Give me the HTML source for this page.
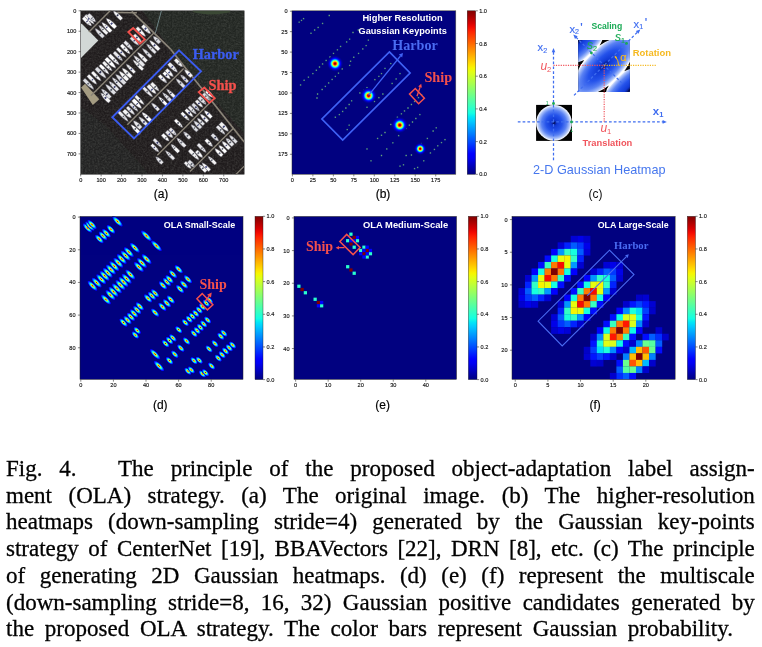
<!DOCTYPE html>
<html><head><meta charset="utf-8"><title>Fig. 4</title>
<style>
html,body{margin:0;padding:0;background:#fff}
svg,.cl{will-change:transform;opacity:0.999}
body{width:762px;height:647px;position:relative;overflow:hidden;font-family:"Liberation Serif",serif}
.cl{position:absolute;left:6.0px;height:25px;line-height:25px;font-size:23px;color:#000;-webkit-text-stroke:0.3px #000;text-align:justify;text-align-last:justify;white-space:nowrap;font-family:"Liberation Serif",serif}
</style></head><body>
<svg width="762" height="440" viewBox="0 0 762 440" style="position:absolute;left:0;top:0" font-family="Liberation Sans, sans-serif">
<defs>
<linearGradient id="jetv" x1="0" y1="1" x2="0" y2="0">
<stop offset="0.000" stop-color="#000080"/>
<stop offset="0.025" stop-color="#00009c"/>
<stop offset="0.050" stop-color="#0000b9"/>
<stop offset="0.075" stop-color="#0000d6"/>
<stop offset="0.100" stop-color="#0000f3"/>
<stop offset="0.125" stop-color="#0000ff"/>
<stop offset="0.150" stop-color="#0019ff"/>
<stop offset="0.175" stop-color="#0033ff"/>
<stop offset="0.200" stop-color="#004dff"/>
<stop offset="0.225" stop-color="#0066ff"/>
<stop offset="0.250" stop-color="#0080ff"/>
<stop offset="0.275" stop-color="#0099ff"/>
<stop offset="0.300" stop-color="#00b2ff"/>
<stop offset="0.325" stop-color="#00ccff"/>
<stop offset="0.350" stop-color="#00e5f7"/>
<stop offset="0.375" stop-color="#15ffe2"/>
<stop offset="0.400" stop-color="#29ffce"/>
<stop offset="0.425" stop-color="#3effb9"/>
<stop offset="0.450" stop-color="#52ffa5"/>
<stop offset="0.475" stop-color="#67ff90"/>
<stop offset="0.500" stop-color="#7bff7b"/>
<stop offset="0.525" stop-color="#90ff67"/>
<stop offset="0.550" stop-color="#a5ff52"/>
<stop offset="0.575" stop-color="#b9ff3e"/>
<stop offset="0.600" stop-color="#ceff29"/>
<stop offset="0.625" stop-color="#e2ff15"/>
<stop offset="0.650" stop-color="#f7f600"/>
<stop offset="0.675" stop-color="#ffde00"/>
<stop offset="0.700" stop-color="#ffc600"/>
<stop offset="0.725" stop-color="#ffaf00"/>
<stop offset="0.750" stop-color="#ff9700"/>
<stop offset="0.775" stop-color="#ff8000"/>
<stop offset="0.800" stop-color="#ff6800"/>
<stop offset="0.825" stop-color="#ff5000"/>
<stop offset="0.850" stop-color="#ff3900"/>
<stop offset="0.875" stop-color="#ff2100"/>
<stop offset="0.900" stop-color="#f30900"/>
<stop offset="0.925" stop-color="#d60000"/>
<stop offset="0.950" stop-color="#b90000"/>
<stop offset="0.975" stop-color="#9c0000"/>
<stop offset="1.000" stop-color="#800000"/>
</linearGradient>
<radialGradient id="gb" cx="0.5" cy="0.5" r="0.5">
<stop offset="0.000" stop-color="#800000"/>
<stop offset="0.042" stop-color="#890000"/>
<stop offset="0.083" stop-color="#a30000"/>
<stop offset="0.125" stop-color="#ce0000"/>
<stop offset="0.167" stop-color="#ff1a00"/>
<stop offset="0.208" stop-color="#ff5300"/>
<stop offset="0.250" stop-color="#ff9300"/>
<stop offset="0.292" stop-color="#ffd700"/>
<stop offset="0.333" stop-color="#d3ff24"/>
<stop offset="0.375" stop-color="#95ff62"/>
<stop offset="0.417" stop-color="#59ff9e"/>
<stop offset="0.458" stop-color="#20ffd7"/>
<stop offset="0.500" stop-color="#00ccff"/>
<stop offset="0.542" stop-color="#0091ff"/>
<stop offset="0.583" stop-color="#005dff"/>
<stop offset="0.625" stop-color="#0030ff"/>
<stop offset="0.667" stop-color="#000bff"/>
<stop offset="0.708" stop-color="#0000f9"/>
<stop offset="0.750" stop-color="#0000dc"/>
<stop offset="0.792" stop-color="#0000c5"/>
<stop offset="0.833" stop-color="#0000b2"/>
<stop offset="0.875" stop-color="#0000a4"/>
<stop offset="0.917" stop-color="#00009a"/>
<stop offset="0.958" stop-color="#000092"/>
<stop offset="1.000" stop-color="#00008c"/>
</radialGradient>
<radialGradient id="gs" cx="0.5" cy="0.5" r="0.5">
<stop offset="0.00" stop-color="#a20000"/>
<stop offset="0.08" stop-color="#f30900"/>
<stop offset="0.16" stop-color="#ff7b00"/>
<stop offset="0.26" stop-color="#deff19"/>
<stop offset="0.38" stop-color="#63ff94"/>
<stop offset="0.50" stop-color="#08f0ef"/>
<stop offset="0.62" stop-color="#0094ff"/>
<stop offset="0.74" stop-color="#0042ff"/>
<stop offset="0.86" stop-color="#0000ff"/>
<stop offset="0.95" stop-color="#0000ae"/>
<stop offset="1.00" stop-color="#000080"/>
</radialGradient>
<filter id="bl05" x="-5%" y="-5%" width="110%" height="110%"><feGaussianBlur stdDeviation="0.45"/></filter>
<filter id="bl03" x="-5%" y="-5%" width="110%" height="110%"><feGaussianBlur stdDeviation="0.3"/></filter>
<filter id="bl08" x="-5%" y="-5%" width="110%" height="110%"><feGaussianBlur stdDeviation="0.7"/></filter>
<filter id="noise" x="0" y="0" width="100%" height="100%"><feTurbulence type="fractalNoise" baseFrequency="0.55" numOctaves="2" seed="3" result="n"/><feColorMatrix in="n" type="matrix" values="0 0 0 0 0.36  0 0 0 0 0.38  0 0 0 0 0.34  0.25 0.25 0 0 -0.19"/></filter>
<clipPath id="ca"><rect x="80.70" y="10.80" width="163.50" height="163.50"/></clipPath>
<clipPath id="cb"><rect x="292.00" y="10.80" width="163.80" height="163.50"/></clipPath>
<clipPath id="cd"><rect x="80.00" y="216.30" width="163.00" height="163.30"/></clipPath>
<clipPath id="ce"><rect x="294.00" y="216.30" width="162.70" height="163.30"/></clipPath>
<clipPath id="cf"><rect x="512.00" y="216.30" width="163.20" height="163.30"/></clipPath>
</defs>
<style>.tk{font-size:5.6px;fill:#141414;stroke:#141414;stroke-width:0.14px} .ti{font-weight:bold;fill:#fff} .sf{font-family:"Liberation Serif",serif;font-weight:bold}</style>
<g clip-path="url(#ca)">
<rect x="80.70" y="10.80" width="163.50" height="163.50" fill="#1f1b1c"/>
<polygon points="142.0,10.8 244.2,10.8 244.2,133.4 195.2,78.2 166.5,43.5" fill="#242622" filter="url(#bl08)"/>
<polygon points="80.7,106.9 105.2,125.2 142.0,166.1 148.1,174.3 80.7,174.3" fill="#212320" filter="url(#bl08)"/>
<rect x="80.70" y="10.80" width="163.50" height="163.50" filter="url(#noise)"/>
<g filter="url(#bl05)">
<polygon points="80.7,23.5 82.3,24.3 98.3,40.6 80.7,58.2" fill="#d2d8d6"/>
<polygon points="81.1,87.4 85.0,83.8 99.3,99.3 92.8,105.0" fill="#a59c82"/>
<ellipse cx="211.5" cy="10.8" rx="19" ry="3.6" fill="#3b4a35"/>
<line x1="116.5" y1="12.4" x2="136.9" y2="12.8" stroke="#8a8478" stroke-width="1.5"/>
<line x1="131.8" y1="11.4" x2="170.6" y2="49.2" stroke="#8a8478" stroke-width="1.7"/>
<line x1="170.6" y1="49.2" x2="244.2" y2="142.0" stroke="#8a8478" stroke-width="1.7"/>
<line x1="161.4" y1="10.8" x2="155.3" y2="33.3" stroke="#7d989c" stroke-width="0.8"/>
<line x1="88.9" y1="32.1" x2="111.4" y2="9.6" stroke="#8a8478" stroke-width="1.4"/>
<line x1="90.9" y1="95.8" x2="154.1" y2="32.7" stroke="#8a8478" stroke-width="1.4"/>
<line x1="127.3" y1="124.8" x2="183.7" y2="68.4" stroke="#8a8478" stroke-width="1.4"/>
<line x1="157.3" y1="155.3" x2="210.9" y2="101.7" stroke="#8a8478" stroke-width="1.4"/>
<line x1="190.0" y1="171.6" x2="233.2" y2="128.5" stroke="#8a8478" stroke-width="1.4"/>
<line x1="223.8" y1="186.6" x2="244.2" y2="166.1" stroke="#8a8478" stroke-width="1.2"/>
</g>
<g filter="url(#bl05)">
<g transform="translate(87.4,21.7) rotate(135)">
<path d="M0,-5.94 C2.10,-3.27 2.00,2.97 1.60,5.94 L-1.60,5.94 C-2.00,2.97 -2.10,-3.27 0,-5.94Z" fill="#ffffff" stroke="#54535c" stroke-width="0.45"/>
<rect x="-1.00" y="-0.1" width="2.00" height="1.1" fill="#3c4070"/>
<rect x="-0.70" y="-2.7" width="1.40" height="0.8" fill="#777b88"/>
</g>
<g transform="translate(89.8,19.8) rotate(135)">
<path d="M0,-6.40 C1.89,-3.52 1.80,3.20 1.44,6.40 L-1.44,6.40 C-1.80,3.20 -1.89,-3.52 0,-6.40Z" fill="#f4f4f4" stroke="#54535c" stroke-width="0.45"/>
<rect x="-0.90" y="0.7" width="1.80" height="1.5" fill="#444a80"/>
<rect x="-0.63" y="-2.0" width="1.26" height="0.8" fill="#777b88"/>
</g>
<g transform="translate(91.9,18.2) rotate(135)">
<path d="M0,-5.40 C2.28,-2.97 2.18,2.70 1.74,5.40 L-1.74,5.40 C-2.18,2.70 -2.28,-2.97 0,-5.40Z" fill="#e9e9ec" stroke="#54535c" stroke-width="0.45"/>
<rect x="-1.09" y="-0.6" width="2.18" height="1.1" fill="#6a6d78"/>
<rect x="-0.76" y="-2.2" width="1.52" height="0.8" fill="#777b88"/>
</g>
<g transform="translate(117.5,15.1) rotate(-45)">
<path d="M0,-5.94 C2.14,-3.27 2.03,2.97 1.63,5.94 L-1.63,5.94 C-2.03,2.97 -2.14,-3.27 0,-5.94Z" fill="#f4f4f4" stroke="#54535c" stroke-width="0.45"/>
<rect x="-1.02" y="-0.6" width="2.03" height="1.6" fill="#2f3350"/>
</g>
<g transform="translate(99.3,32.8) rotate(-45)">
<path d="M0,-6.07 C2.09,-3.34 1.99,3.04 1.59,6.07 L-1.59,6.07 C-1.99,3.04 -2.09,-3.34 0,-6.07Z" fill="#dfe0e4" stroke="#54535c" stroke-width="0.45"/>
<rect x="-1.00" y="0.4" width="1.99" height="1.4" fill="#6a6d78"/>
</g>
<g transform="translate(103.0,29.6) rotate(-45)">
<path d="M0,-6.11 C1.96,-3.36 1.86,3.06 1.49,6.11 L-1.49,6.11 C-1.86,3.06 -1.96,-3.36 0,-6.11Z" fill="#f4f4f4" stroke="#54535c" stroke-width="0.45"/>
<rect x="-0.93" y="-0.7" width="1.86" height="1.2" fill="#555a66"/>
<rect x="-0.65" y="-2.8" width="1.30" height="0.8" fill="#777b88"/>
</g>
<g transform="translate(106.4,27.0) rotate(-45)">
<path d="M0,-6.62 C2.15,-3.64 2.05,3.31 1.64,6.62 L-1.64,6.62 C-2.05,3.31 -2.15,-3.64 0,-6.62Z" fill="#ffffff" stroke="#54535c" stroke-width="0.45"/>
<rect x="-1.02" y="0.0" width="2.05" height="1.1" fill="#3c4070"/>
<rect x="-0.72" y="-2.1" width="1.43" height="0.8" fill="#777b88"/>
</g>
<g transform="translate(110.9,23.0) rotate(-45)">
<path d="M0,-6.69 C2.34,-3.68 2.23,3.35 1.78,6.69 L-1.78,6.69 C-2.23,3.35 -2.34,-3.68 0,-6.69Z" fill="#ffffff" stroke="#54535c" stroke-width="0.45"/>
<rect x="-1.11" y="0.1" width="2.23" height="1.7" fill="#444a80"/>
<rect x="-0.78" y="-2.4" width="1.56" height="0.8" fill="#777b88"/>
</g>
<g transform="translate(146.5,29.6) rotate(135)">
<path d="M0,-5.83 C2.14,-3.20 2.03,2.91 1.63,5.83 L-1.63,5.83 C-2.03,2.91 -2.14,-3.20 0,-5.83Z" fill="#f8f8f8" stroke="#54535c" stroke-width="0.45"/>
<rect x="-1.02" y="0.5" width="2.03" height="1.8" fill="#3c4070"/>
<rect x="-0.71" y="-2.4" width="1.42" height="0.8" fill="#777b88"/>
</g>
<g transform="translate(156.5,39.6) rotate(-45)">
<path d="M0,-4.69 C2.20,-2.58 2.10,2.35 1.68,4.69 L-1.68,4.69 C-2.10,2.35 -2.20,-2.58 0,-4.69Z" fill="#dfe0e4" stroke="#54535c" stroke-width="0.45"/>
<rect x="-1.05" y="-0.3" width="2.10" height="1.3" fill="#6a6d78"/>
</g>
<g transform="translate(92.4,79.7) rotate(135)">
<path d="M0,-6.28 C2.07,-3.45 1.97,3.14 1.58,6.28 L-1.58,6.28 C-1.97,3.14 -2.07,-3.45 0,-6.28Z" fill="#f4f4f4" stroke="#54535c" stroke-width="0.45"/>
<rect x="-0.99" y="-0.6" width="1.97" height="1.0" fill="#444a80"/>
</g>
<g transform="translate(96.6,76.5) rotate(135)">
<path d="M0,-6.39 C1.96,-3.51 1.86,3.19 1.49,6.39 L-1.49,6.39 C-1.86,3.19 -1.96,-3.51 0,-6.39Z" fill="#f8f8f8" stroke="#54535c" stroke-width="0.45"/>
<rect x="-0.93" y="-0.7" width="1.86" height="1.4" fill="#6a6d78"/>
</g>
<g transform="translate(101.1,73.1) rotate(135)">
<path d="M0,-7.13 C2.26,-3.92 2.16,3.57 1.72,7.13 L-1.72,7.13 C-2.16,3.57 -2.26,-3.92 0,-7.13Z" fill="#dfe0e4" stroke="#54535c" stroke-width="0.45"/>
<rect x="-1.08" y="0.3" width="2.16" height="1.8" fill="#2f3350"/>
</g>
<g transform="translate(104.5,69.7) rotate(135)">
<path d="M0,-6.61 C1.95,-3.64 1.86,3.31 1.48,6.61 L-1.48,6.61 C-1.86,3.31 -1.95,-3.64 0,-6.61Z" fill="#ffffff" stroke="#54535c" stroke-width="0.45"/>
<rect x="-0.93" y="-0.6" width="1.86" height="1.5" fill="#555a66"/>
<rect x="-0.65" y="-2.2" width="1.30" height="0.8" fill="#777b88"/>
</g>
<g transform="translate(107.7,66.5) rotate(135)">
<path d="M0,-6.41 C1.98,-3.52 1.88,3.20 1.50,6.41 L-1.50,6.41 C-1.88,3.20 -1.98,-3.52 0,-6.41Z" fill="#f4f4f4" stroke="#54535c" stroke-width="0.45"/>
<rect x="-0.94" y="0.1" width="1.88" height="1.5" fill="#6a6d78"/>
<rect x="-0.66" y="-3.0" width="1.32" height="0.8" fill="#777b88"/>
</g>
<g transform="translate(110.9,63.3) rotate(135)">
<path d="M0,-7.11 C2.33,-3.91 2.22,3.55 1.78,7.11 L-1.78,7.11 C-2.22,3.55 -2.33,-3.91 0,-7.11Z" fill="#ffffff" stroke="#54535c" stroke-width="0.45"/>
<rect x="-1.11" y="0.6" width="2.22" height="1.6" fill="#6a6d78"/>
</g>
<g transform="translate(114.3,59.9) rotate(135)">
<path d="M0,-7.04 C2.03,-3.87 1.94,3.52 1.55,7.04 L-1.55,7.04 C-1.94,3.52 -2.03,-3.87 0,-7.04Z" fill="#f8f8f8" stroke="#54535c" stroke-width="0.45"/>
<rect x="-0.97" y="-0.6" width="1.94" height="1.5" fill="#6a6d78"/>
<rect x="-0.68" y="-3.1" width="1.36" height="0.8" fill="#777b88"/>
</g>
<g transform="translate(118.3,56.5) rotate(135)">
<path d="M0,-6.16 C1.91,-3.39 1.82,3.08 1.46,6.16 L-1.46,6.16 C-1.82,3.08 -1.91,-3.39 0,-6.16Z" fill="#e9e9ec" stroke="#54535c" stroke-width="0.45"/>
<rect x="-0.91" y="-0.7" width="1.82" height="1.0" fill="#444a80"/>
<rect x="-0.64" y="-3.1" width="1.27" height="0.8" fill="#777b88"/>
</g>
<g transform="translate(121.7,52.8) rotate(135)">
<path d="M0,-6.46 C1.84,-3.55 1.75,3.23 1.40,6.46 L-1.40,6.46 C-1.75,3.23 -1.84,-3.55 0,-6.46Z" fill="#f4f4f4" stroke="#54535c" stroke-width="0.45"/>
<rect x="-0.88" y="-0.2" width="1.75" height="1.5" fill="#444a80"/>
</g>
<g transform="translate(125.6,49.4) rotate(135)">
<path d="M0,-6.41 C2.08,-3.53 1.98,3.20 1.58,6.41 L-1.58,6.41 C-1.98,3.20 -2.08,-3.53 0,-6.41Z" fill="#ffffff" stroke="#54535c" stroke-width="0.45"/>
<rect x="-0.99" y="0.8" width="1.98" height="1.4" fill="#6a6d78"/>
<rect x="-0.69" y="-3.1" width="1.39" height="0.8" fill="#777b88"/>
</g>
<g transform="translate(128.8,45.9) rotate(135)">
<path d="M0,-6.06 C2.01,-3.33 1.91,3.03 1.53,6.06 L-1.53,6.06 C-1.91,3.03 -2.01,-3.33 0,-6.06Z" fill="#e9e9ec" stroke="#54535c" stroke-width="0.45"/>
<rect x="-0.96" y="0.5" width="1.91" height="1.1" fill="#6a6d78"/>
<rect x="-0.67" y="-2.1" width="1.34" height="0.8" fill="#777b88"/>
</g>
<g transform="translate(134.9,41.5) rotate(135)">
<path d="M0,-5.63 C1.90,-3.09 1.81,2.81 1.45,5.63 L-1.45,5.63 C-1.81,2.81 -1.90,-3.09 0,-5.63Z" fill="#dfe0e4" stroke="#54535c" stroke-width="0.45"/>
<rect x="-0.91" y="0.4" width="1.81" height="1.2" fill="#3c4070"/>
</g>
<g transform="translate(105.9,93.4) rotate(-45)">
<path d="M0,-6.31 C2.28,-3.47 2.17,3.16 1.74,6.31 L-1.74,6.31 C-2.17,3.16 -2.28,-3.47 0,-6.31Z" fill="#dfe0e4" stroke="#54535c" stroke-width="0.45"/>
<rect x="-1.08" y="0.7" width="2.17" height="1.3" fill="#2f3350"/>
<rect x="-0.76" y="-2.6" width="1.52" height="0.8" fill="#777b88"/>
</g>
<g transform="translate(110.3,88.9) rotate(-45)">
<path d="M0,-6.74 C2.17,-3.71 2.06,3.37 1.65,6.74 L-1.65,6.74 C-2.06,3.37 -2.17,-3.71 0,-6.74Z" fill="#dfe0e4" stroke="#54535c" stroke-width="0.45"/>
<rect x="-1.03" y="0.5" width="2.06" height="1.7" fill="#555a66"/>
</g>
<g transform="translate(113.5,85.8) rotate(-45)">
<path d="M0,-6.45 C2.10,-3.55 2.00,3.23 1.60,6.45 L-1.60,6.45 C-2.00,3.23 -2.10,-3.55 0,-6.45Z" fill="#e9e9ec" stroke="#54535c" stroke-width="0.45"/>
<rect x="-1.00" y="0.8" width="2.00" height="1.6" fill="#3c4070"/>
<rect x="-0.70" y="-3.0" width="1.40" height="0.8" fill="#777b88"/>
</g>
<g transform="translate(116.9,82.3) rotate(-45)">
<path d="M0,-6.84 C2.01,-3.76 1.91,3.42 1.53,6.84 L-1.53,6.84 C-1.91,3.42 -2.01,-3.76 0,-6.84Z" fill="#e9e9ec" stroke="#54535c" stroke-width="0.45"/>
<rect x="-0.96" y="-0.7" width="1.91" height="1.1" fill="#2f3350"/>
<rect x="-0.67" y="-2.8" width="1.34" height="0.8" fill="#777b88"/>
</g>
<g transform="translate(120.4,78.9) rotate(-45)">
<path d="M0,-6.72 C2.35,-3.69 2.24,3.36 1.79,6.72 L-1.79,6.72 C-2.24,3.36 -2.35,-3.69 0,-6.72Z" fill="#dfe0e4" stroke="#54535c" stroke-width="0.45"/>
<rect x="-1.12" y="-0.0" width="2.24" height="1.5" fill="#3c4070"/>
</g>
<g transform="translate(123.5,75.7) rotate(-45)">
<path d="M0,-6.31 C2.18,-3.47 2.07,3.15 1.66,6.31 L-1.66,6.31 C-2.07,3.15 -2.18,-3.47 0,-6.31Z" fill="#f8f8f8" stroke="#54535c" stroke-width="0.45"/>
<rect x="-1.04" y="-0.0" width="2.07" height="1.1" fill="#555a66"/>
</g>
<g transform="translate(126.7,72.6) rotate(-45)">
<path d="M0,-6.56 C2.25,-3.61 2.15,3.28 1.72,6.56 L-1.72,6.56 C-2.15,3.28 -2.25,-3.61 0,-6.56Z" fill="#f8f8f8" stroke="#54535c" stroke-width="0.45"/>
<rect x="-1.07" y="-0.2" width="2.15" height="1.8" fill="#6a6d78"/>
</g>
<g transform="translate(130.4,68.4) rotate(-45)">
<path d="M0,-6.12 C1.89,-3.37 1.80,3.06 1.44,6.12 L-1.44,6.12 C-1.80,3.06 -1.89,-3.37 0,-6.12Z" fill="#f4f4f4" stroke="#54535c" stroke-width="0.45"/>
<rect x="-0.90" y="0.6" width="1.80" height="1.6" fill="#444a80"/>
<rect x="-0.63" y="-2.2" width="1.26" height="0.8" fill="#777b88"/>
</g>
<g transform="translate(138.8,60.7) rotate(-45)">
<path d="M0,-7.28 C2.18,-4.00 2.07,3.64 1.66,7.28 L-1.66,7.28 C-2.07,3.64 -2.18,-4.00 0,-7.28Z" fill="#e9e9ec" stroke="#54535c" stroke-width="0.45"/>
<rect x="-1.04" y="0.1" width="2.07" height="1.1" fill="#555a66"/>
<rect x="-0.73" y="-2.0" width="1.45" height="0.8" fill="#777b88"/>
</g>
<g transform="translate(142.0,56.8) rotate(-45)">
<path d="M0,-6.60 C2.11,-3.63 2.01,3.30 1.60,6.60 L-1.60,6.60 C-2.01,3.30 -2.11,-3.63 0,-6.60Z" fill="#f4f4f4" stroke="#54535c" stroke-width="0.45"/>
<rect x="-1.00" y="0.8" width="2.01" height="1.2" fill="#6a6d78"/>
</g>
<g transform="translate(146.7,52.8) rotate(-45)">
<path d="M0,-6.28 C1.94,-3.46 1.85,3.14 1.48,6.28 L-1.48,6.28 C-1.85,3.14 -1.94,-3.46 0,-6.28Z" fill="#dfe0e4" stroke="#54535c" stroke-width="0.45"/>
<rect x="-0.92" y="0.4" width="1.85" height="1.3" fill="#555a66"/>
</g>
<g transform="translate(148.1,92.4) rotate(135)">
<path d="M0,-6.64 C1.86,-3.65 1.77,3.32 1.41,6.64 L-1.41,6.64 C-1.77,3.32 -1.86,-3.65 0,-6.64Z" fill="#e9e9ec" stroke="#54535c" stroke-width="0.45"/>
<rect x="-0.88" y="0.3" width="1.77" height="1.7" fill="#6a6d78"/>
</g>
<g transform="translate(152.0,89.7) rotate(135)">
<path d="M0,-5.88 C2.30,-3.24 2.19,2.94 1.75,5.88 L-1.75,5.88 C-2.19,2.94 -2.30,-3.24 0,-5.88Z" fill="#f4f4f4" stroke="#54535c" stroke-width="0.45"/>
<rect x="-1.09" y="-0.6" width="2.19" height="1.4" fill="#444a80"/>
</g>
<g transform="translate(155.2,87.1) rotate(135)">
<path d="M0,-5.54 C2.15,-3.05 2.05,2.77 1.64,5.54 L-1.64,5.54 C-2.05,2.77 -2.15,-3.05 0,-5.54Z" fill="#f4f4f4" stroke="#54535c" stroke-width="0.45"/>
<rect x="-1.02" y="-0.6" width="2.05" height="1.5" fill="#555a66"/>
<rect x="-0.72" y="-3.1" width="1.43" height="0.8" fill="#777b88"/>
</g>
<g transform="translate(163.1,79.2) rotate(135)">
<path d="M0,-5.47 C2.11,-3.01 2.01,2.73 1.61,5.47 L-1.61,5.47 C-2.01,2.73 -2.11,-3.01 0,-5.47Z" fill="#f8f8f8" stroke="#54535c" stroke-width="0.45"/>
<rect x="-1.00" y="0.6" width="2.01" height="1.0" fill="#3c4070"/>
<rect x="-0.70" y="-3.1" width="1.41" height="0.8" fill="#777b88"/>
</g>
<g transform="translate(167.0,75.7) rotate(135)">
<path d="M0,-4.72 C2.07,-2.60 1.97,2.36 1.57,4.72 L-1.57,4.72 C-1.97,2.36 -2.07,-2.60 0,-4.72Z" fill="#ffffff" stroke="#54535c" stroke-width="0.45"/>
<rect x="-0.98" y="-0.1" width="1.97" height="1.5" fill="#3c4070"/>
</g>
<g transform="translate(169.7,73.1) rotate(135)">
<path d="M0,-5.04 C2.20,-2.77 2.09,2.52 1.67,5.04 L-1.67,5.04 C-2.09,2.52 -2.20,-2.77 0,-5.04Z" fill="#f8f8f8" stroke="#54535c" stroke-width="0.45"/>
<rect x="-1.05" y="0.1" width="2.09" height="1.4" fill="#444a80"/>
</g>
<g transform="translate(173.1,67.8) rotate(135)">
<path d="M0,-6.21 C2.29,-3.42 2.19,3.11 1.75,6.21 L-1.75,6.21 C-2.19,3.11 -2.29,-3.42 0,-6.21Z" fill="#e9e9ec" stroke="#54535c" stroke-width="0.45"/>
<rect x="-1.09" y="0.6" width="2.19" height="1.2" fill="#444a80"/>
<rect x="-0.76" y="-2.7" width="1.53" height="0.8" fill="#777b88"/>
</g>
<g transform="translate(178.9,63.1) rotate(135)">
<path d="M0,-5.37 C1.99,-2.95 1.90,2.68 1.52,5.37 L-1.52,5.37 C-1.90,2.68 -1.99,-2.95 0,-5.37Z" fill="#f4f4f4" stroke="#54535c" stroke-width="0.45"/>
<rect x="-0.95" y="-0.7" width="1.90" height="1.5" fill="#6a6d78"/>
</g>
<g transform="translate(123.5,116.6) rotate(135)">
<path d="M0,-6.85 C1.91,-3.77 1.82,3.42 1.45,6.85 L-1.45,6.85 C-1.82,3.42 -1.91,-3.77 0,-6.85Z" fill="#e9e9ec" stroke="#54535c" stroke-width="0.45"/>
<rect x="-0.91" y="-0.4" width="1.82" height="1.1" fill="#555a66"/>
<rect x="-0.64" y="-2.3" width="1.27" height="0.8" fill="#777b88"/>
</g>
<g transform="translate(127.5,114.0) rotate(135)">
<path d="M0,-5.38 C2.30,-2.96 2.19,2.69 1.75,5.38 L-1.75,5.38 C-2.19,2.69 -2.30,-2.96 0,-5.38Z" fill="#f4f4f4" stroke="#54535c" stroke-width="0.45"/>
<rect x="-1.09" y="-0.5" width="2.19" height="1.3" fill="#555a66"/>
</g>
<g transform="translate(130.9,110.8) rotate(135)">
<path d="M0,-5.46 C1.93,-3.00 1.84,2.73 1.47,5.46 L-1.47,5.46 C-1.84,2.73 -1.93,-3.00 0,-5.46Z" fill="#e9e9ec" stroke="#54535c" stroke-width="0.45"/>
<rect x="-0.92" y="0.4" width="1.84" height="1.0" fill="#3c4070"/>
</g>
<g transform="translate(134.1,107.4) rotate(135)">
<path d="M0,-5.69 C1.83,-3.13 1.75,2.85 1.40,5.69 L-1.40,5.69 C-1.75,2.85 -1.83,-3.13 0,-5.69Z" fill="#e9e9ec" stroke="#54535c" stroke-width="0.45"/>
<rect x="-0.87" y="0.2" width="1.75" height="1.4" fill="#444a80"/>
<rect x="-0.61" y="-2.0" width="1.22" height="0.8" fill="#777b88"/>
</g>
<g transform="translate(137.2,104.0) rotate(135)">
<path d="M0,-6.15 C2.35,-3.38 2.23,3.07 1.79,6.15 L-1.79,6.15 C-2.23,3.07 -2.35,-3.38 0,-6.15Z" fill="#ffffff" stroke="#54535c" stroke-width="0.45"/>
<rect x="-1.12" y="-0.4" width="2.23" height="1.0" fill="#3c4070"/>
</g>
<g transform="translate(139.9,100.3) rotate(135)">
<path d="M0,-6.22 C1.89,-3.42 1.80,3.11 1.44,6.22 L-1.44,6.22 C-1.80,3.11 -1.89,-3.42 0,-6.22Z" fill="#f8f8f8" stroke="#54535c" stroke-width="0.45"/>
<rect x="-0.90" y="-0.2" width="1.80" height="1.4" fill="#2f3350"/>
</g>
<g transform="translate(155.2,106.6) rotate(-45)">
<path d="M0,-5.17 C2.00,-2.84 1.90,2.59 1.52,5.17 L-1.52,5.17 C-1.90,2.59 -2.00,-2.84 0,-5.17Z" fill="#e9e9ec" stroke="#54535c" stroke-width="0.45"/>
<rect x="-0.95" y="0.5" width="1.90" height="1.1" fill="#3c4070"/>
</g>
<g transform="translate(162.6,100.8) rotate(-45)">
<path d="M0,-5.81 C1.83,-3.20 1.75,2.91 1.40,5.81 L-1.40,5.81 C-1.75,2.91 -1.83,-3.20 0,-5.81Z" fill="#ffffff" stroke="#54535c" stroke-width="0.45"/>
<rect x="-0.87" y="-0.7" width="1.75" height="1.7" fill="#2f3350"/>
<rect x="-0.61" y="-2.2" width="1.22" height="0.8" fill="#777b88"/>
</g>
<g transform="translate(167.0,97.1) rotate(-45)">
<path d="M0,-6.41 C2.01,-3.52 1.91,3.20 1.53,6.41 L-1.53,6.41 C-1.91,3.20 -2.01,-3.52 0,-6.41Z" fill="#dfe0e4" stroke="#54535c" stroke-width="0.45"/>
<rect x="-0.96" y="0.7" width="1.91" height="1.2" fill="#6a6d78"/>
<rect x="-0.67" y="-2.6" width="1.34" height="0.8" fill="#777b88"/>
</g>
<g transform="translate(171.0,93.4) rotate(-45)">
<path d="M0,-6.33 C1.88,-3.48 1.79,3.16 1.43,6.33 L-1.43,6.33 C-1.79,3.16 -1.88,-3.48 0,-6.33Z" fill="#f4f4f4" stroke="#54535c" stroke-width="0.45"/>
<rect x="-0.90" y="-0.7" width="1.79" height="1.2" fill="#2f3350"/>
<rect x="-0.63" y="-2.8" width="1.26" height="0.8" fill="#777b88"/>
</g>
<g transform="translate(180.2,82.9) rotate(-45)">
<path d="M0,-6.12 C1.98,-3.37 1.89,3.06 1.51,6.12 L-1.51,6.12 C-1.89,3.06 -1.98,-3.37 0,-6.12Z" fill="#dfe0e4" stroke="#54535c" stroke-width="0.45"/>
<rect x="-0.94" y="-0.4" width="1.89" height="1.6" fill="#555a66"/>
</g>
<g transform="translate(184.2,78.4) rotate(-45)">
<path d="M0,-5.20 C1.83,-2.86 1.75,2.60 1.40,5.20 L-1.40,5.20 C-1.75,2.60 -1.83,-2.86 0,-5.20Z" fill="#dfe0e4" stroke="#54535c" stroke-width="0.45"/>
<rect x="-0.87" y="0.8" width="1.75" height="1.4" fill="#444a80"/>
<rect x="-0.61" y="-2.7" width="1.22" height="0.8" fill="#777b88"/>
</g>
<g transform="translate(188.1,73.1) rotate(-45)">
<path d="M0,-5.01 C2.17,-2.76 2.07,2.51 1.66,5.01 L-1.66,5.01 C-2.07,2.51 -2.17,-2.76 0,-5.01Z" fill="#f8f8f8" stroke="#54535c" stroke-width="0.45"/>
<rect x="-1.03" y="0.5" width="2.07" height="1.3" fill="#444a80"/>
</g>
<g transform="translate(137.2,124.5) rotate(-45)">
<path d="M0,-5.33 C2.35,-2.93 2.24,2.66 1.79,5.33 L-1.79,5.33 C-2.24,2.66 -2.35,-2.93 0,-5.33Z" fill="#e9e9ec" stroke="#54535c" stroke-width="0.45"/>
<rect x="-1.12" y="0.5" width="2.24" height="1.6" fill="#555a66"/>
</g>
<g transform="translate(135.4,129.0) rotate(-45)">
<path d="M0,-6.50 C2.01,-3.57 1.91,3.25 1.53,6.50 L-1.53,6.50 C-1.91,3.25 -2.01,-3.57 0,-6.50Z" fill="#ffffff" stroke="#54535c" stroke-width="0.45"/>
<rect x="-0.96" y="-0.8" width="1.91" height="1.5" fill="#555a66"/>
</g>
<g transform="translate(185.5,116.6) rotate(135)">
<path d="M0,-5.60 C1.85,-3.08 1.77,2.80 1.41,5.60 L-1.41,5.60 C-1.77,2.80 -1.85,-3.08 0,-5.60Z" fill="#f8f8f8" stroke="#54535c" stroke-width="0.45"/>
<rect x="-0.88" y="0.3" width="1.77" height="1.2" fill="#444a80"/>
<rect x="-0.62" y="-2.8" width="1.24" height="0.8" fill="#777b88"/>
</g>
<g transform="translate(189.5,113.2) rotate(135)">
<path d="M0,-5.34 C1.91,-2.94 1.82,2.67 1.45,5.34 L-1.45,5.34 C-1.82,2.67 -1.91,-2.94 0,-5.34Z" fill="#f8f8f8" stroke="#54535c" stroke-width="0.45"/>
<rect x="-0.91" y="-0.4" width="1.82" height="1.8" fill="#3c4070"/>
</g>
<g transform="translate(192.6,110.3) rotate(135)">
<path d="M0,-5.27 C1.96,-2.90 1.86,2.64 1.49,5.27 L-1.49,5.27 C-1.86,2.64 -1.96,-2.90 0,-5.27Z" fill="#e9e9ec" stroke="#54535c" stroke-width="0.45"/>
<rect x="-0.93" y="-0.2" width="1.86" height="1.0" fill="#555a66"/>
<rect x="-0.65" y="-2.6" width="1.30" height="0.8" fill="#777b88"/>
</g>
<g transform="translate(196.0,107.4) rotate(135)">
<path d="M0,-4.95 C1.93,-2.72 1.84,2.48 1.47,4.95 L-1.47,4.95 C-1.84,2.48 -1.93,-2.72 0,-4.95Z" fill="#dfe0e4" stroke="#54535c" stroke-width="0.45"/>
<rect x="-0.92" y="-0.7" width="1.84" height="1.7" fill="#3c4070"/>
<rect x="-0.64" y="-2.5" width="1.29" height="0.8" fill="#777b88"/>
</g>
<g transform="translate(199.5,104.0) rotate(135)">
<path d="M0,-4.87 C1.98,-2.68 1.89,2.43 1.51,4.87 L-1.51,4.87 C-1.89,2.43 -1.98,-2.68 0,-4.87Z" fill="#f4f4f4" stroke="#54535c" stroke-width="0.45"/>
<rect x="-0.95" y="0.1" width="1.89" height="1.4" fill="#3c4070"/>
</g>
<g transform="translate(202.6,100.8) rotate(135)">
<path d="M0,-5.07 C2.21,-2.79 2.10,2.53 1.68,5.07 L-1.68,5.07 C-2.10,2.53 -2.21,-2.79 0,-5.07Z" fill="#dfe0e4" stroke="#54535c" stroke-width="0.45"/>
<rect x="-1.05" y="0.4" width="2.10" height="1.6" fill="#6a6d78"/>
<rect x="-0.74" y="-2.9" width="1.47" height="0.8" fill="#777b88"/>
</g>
<g transform="translate(206.6,97.1) rotate(135)">
<path d="M0,-4.90 C1.90,-2.69 1.81,2.45 1.45,4.90 L-1.45,4.90 C-1.81,2.45 -1.90,-2.69 0,-4.90Z" fill="#dfe0e4" stroke="#54535c" stroke-width="0.45"/>
<rect x="-0.91" y="0.4" width="1.81" height="1.6" fill="#6a6d78"/>
<rect x="-0.63" y="-2.6" width="1.27" height="0.8" fill="#777b88"/>
</g>
<g transform="translate(209.8,94.2) rotate(135)">
<path d="M0,-4.67 C2.27,-2.57 2.16,2.33 1.73,4.67 L-1.73,4.67 C-2.16,2.33 -2.27,-2.57 0,-4.67Z" fill="#ffffff" stroke="#54535c" stroke-width="0.45"/>
<rect x="-1.08" y="0.5" width="2.16" height="1.6" fill="#444a80"/>
</g>
<g transform="translate(178.9,123.7) rotate(135)">
<path d="M0,-5.49 C1.87,-3.02 1.78,2.75 1.42,5.49 L-1.42,5.49 C-1.78,2.75 -1.87,-3.02 0,-5.49Z" fill="#ffffff" stroke="#54535c" stroke-width="0.45"/>
<rect x="-0.89" y="0.2" width="1.78" height="1.8" fill="#555a66"/>
<rect x="-0.62" y="-2.7" width="1.25" height="0.8" fill="#777b88"/>
</g>
<g transform="translate(194.2,127.7) rotate(-45)">
<path d="M0,-4.63 C1.83,-2.55 1.75,2.32 1.40,4.63 L-1.40,4.63 C-1.75,2.32 -1.83,-2.55 0,-4.63Z" fill="#dfe0e4" stroke="#54535c" stroke-width="0.45"/>
<rect x="-0.87" y="-0.0" width="1.75" height="1.0" fill="#555a66"/>
</g>
<g transform="translate(197.4,124.5) rotate(-45)">
<path d="M0,-5.17 C2.09,-2.84 1.99,2.58 1.60,5.17 L-1.60,5.17 C-1.99,2.58 -2.09,-2.84 0,-5.17Z" fill="#dfe0e4" stroke="#54535c" stroke-width="0.45"/>
<rect x="-1.00" y="0.3" width="1.99" height="1.1" fill="#3c4070"/>
</g>
<g transform="translate(200.5,121.4) rotate(-45)">
<path d="M0,-4.79 C1.86,-2.63 1.78,2.39 1.42,4.79 L-1.42,4.79 C-1.78,2.39 -1.86,-2.63 0,-4.79Z" fill="#e9e9ec" stroke="#54535c" stroke-width="0.45"/>
<rect x="-0.89" y="0.4" width="1.78" height="1.2" fill="#555a66"/>
</g>
<g transform="translate(204.0,117.9) rotate(-45)">
<path d="M0,-5.34 C2.09,-2.94 1.99,2.67 1.59,5.34 L-1.59,5.34 C-1.99,2.67 -2.09,-2.94 0,-5.34Z" fill="#f8f8f8" stroke="#54535c" stroke-width="0.45"/>
<rect x="-0.99" y="-0.0" width="1.99" height="1.5" fill="#3c4070"/>
</g>
<g transform="translate(207.9,114.0) rotate(-45)">
<path d="M0,-5.07 C2.17,-2.79 2.07,2.53 1.65,5.07 L-1.65,5.07 C-2.07,2.53 -2.17,-2.79 0,-5.07Z" fill="#ffffff" stroke="#54535c" stroke-width="0.45"/>
<rect x="-1.03" y="-0.6" width="2.07" height="1.2" fill="#444a80"/>
</g>
<g transform="translate(165.7,137.7) rotate(135)">
<path d="M0,-4.80 C2.13,-2.64 2.03,2.40 1.62,4.80 L-1.62,4.80 C-2.03,2.40 -2.13,-2.64 0,-4.80Z" fill="#ffffff" stroke="#54535c" stroke-width="0.45"/>
<rect x="-1.01" y="-0.7" width="2.03" height="1.2" fill="#6a6d78"/>
</g>
<g transform="translate(169.7,134.5) rotate(135)">
<path d="M0,-4.66 C2.19,-2.56 2.08,2.33 1.67,4.66 L-1.67,4.66 C-2.08,2.33 -2.19,-2.56 0,-4.66Z" fill="#e9e9ec" stroke="#54535c" stroke-width="0.45"/>
<rect x="-1.04" y="-0.3" width="2.08" height="1.4" fill="#444a80"/>
</g>
<g transform="translate(173.1,131.9) rotate(135)">
<path d="M0,-4.72 C2.12,-2.59 2.02,2.36 1.61,4.72 L-1.61,4.72 C-2.02,2.36 -2.12,-2.59 0,-4.72Z" fill="#e9e9ec" stroke="#54535c" stroke-width="0.45"/>
<rect x="-1.01" y="0.7" width="2.02" height="1.0" fill="#3c4070"/>
<rect x="-0.71" y="-2.2" width="1.41" height="0.8" fill="#777b88"/>
</g>
<g transform="translate(181.0,142.2) rotate(-45)">
<path d="M0,-6.10 C2.07,-3.35 1.97,3.05 1.57,6.10 L-1.57,6.10 C-1.97,3.05 -2.07,-3.35 0,-6.10Z" fill="#e9e9ec" stroke="#54535c" stroke-width="0.45"/>
<rect x="-0.98" y="-0.5" width="1.97" height="1.8" fill="#6a6d78"/>
<rect x="-0.69" y="-2.5" width="1.38" height="0.8" fill="#777b88"/>
</g>
<g transform="translate(186.8,135.1) rotate(-45)">
<path d="M0,-4.70 C2.11,-2.59 2.00,2.35 1.60,4.70 L-1.60,4.70 C-2.00,2.35 -2.11,-2.59 0,-4.70Z" fill="#e9e9ec" stroke="#54535c" stroke-width="0.45"/>
<rect x="-1.00" y="0.2" width="2.00" height="1.5" fill="#555a66"/>
<rect x="-0.70" y="-3.1" width="1.40" height="0.8" fill="#777b88"/>
</g>
<g transform="translate(174.9,148.3) rotate(-45)">
<path d="M0,-5.57 C2.09,-3.06 1.99,2.78 1.59,5.57 L-1.59,5.57 C-1.99,2.78 -2.09,-3.06 0,-5.57Z" fill="#f8f8f8" stroke="#54535c" stroke-width="0.45"/>
<rect x="-1.00" y="-0.8" width="1.99" height="1.0" fill="#6a6d78"/>
<rect x="-0.70" y="-2.7" width="1.39" height="0.8" fill="#777b88"/>
</g>
<g transform="translate(169.7,154.9) rotate(-45)">
<path d="M0,-6.20 C1.90,-3.41 1.81,3.10 1.45,6.20 L-1.45,6.20 C-1.81,3.10 -1.90,-3.41 0,-6.20Z" fill="#e9e9ec" stroke="#54535c" stroke-width="0.45"/>
<rect x="-0.90" y="-0.3" width="1.81" height="1.7" fill="#6a6d78"/>
<rect x="-0.63" y="-2.3" width="1.27" height="0.8" fill="#777b88"/>
</g>
<g transform="translate(155.2,148.3) rotate(135)">
<path d="M0,-5.21 C1.89,-2.86 1.80,2.60 1.44,5.21 L-1.44,5.21 C-1.80,2.60 -1.89,-2.86 0,-5.21Z" fill="#f4f4f4" stroke="#54535c" stroke-width="0.45"/>
<rect x="-0.90" y="0.6" width="1.80" height="1.2" fill="#3c4070"/>
<rect x="-0.63" y="-2.7" width="1.26" height="0.8" fill="#777b88"/>
</g>
<g transform="translate(159.1,160.1) rotate(-45)">
<path d="M0,-4.72 C2.14,-2.60 2.04,2.36 1.63,4.72 L-1.63,4.72 C-2.04,2.36 -2.14,-2.60 0,-4.72Z" fill="#e9e9ec" stroke="#54535c" stroke-width="0.45"/>
<rect x="-1.02" y="0.4" width="2.04" height="1.7" fill="#6a6d78"/>
<rect x="-0.71" y="-3.1" width="1.43" height="0.8" fill="#777b88"/>
</g>
<g transform="translate(194.2,154.9) rotate(135)">
<path d="M0,-6.94 C2.16,-3.82 2.06,3.47 1.65,6.94 L-1.65,6.94 C-2.06,3.47 -2.16,-3.82 0,-6.94Z" fill="#f4f4f4" stroke="#54535c" stroke-width="0.45"/>
<rect x="-1.03" y="0.8" width="2.06" height="1.3" fill="#555a66"/>
<rect x="-0.72" y="-2.3" width="1.44" height="0.8" fill="#777b88"/>
</g>
<g transform="translate(199.5,154.3) rotate(135)">
<path d="M0,-4.58 C2.05,-2.52 1.96,2.29 1.56,4.58 L-1.56,4.58 C-1.96,2.29 -2.05,-2.52 0,-4.58Z" fill="#ffffff" stroke="#54535c" stroke-width="0.45"/>
<rect x="-0.98" y="0.7" width="1.96" height="1.8" fill="#6a6d78"/>
</g>
<g transform="translate(188.1,165.4) rotate(135)">
<path d="M0,-4.53 C1.85,-2.49 1.76,2.27 1.41,4.53 L-1.41,4.53 C-1.76,2.27 -1.85,-2.49 0,-4.53Z" fill="#f8f8f8" stroke="#54535c" stroke-width="0.45"/>
<rect x="-0.88" y="0.2" width="1.76" height="1.1" fill="#6a6d78"/>
</g>
<g transform="translate(191.6,164.1) rotate(135)">
<path d="M0,-4.37 C2.31,-2.41 2.20,2.19 1.76,4.37 L-1.76,4.37 C-2.20,2.19 -2.31,-2.41 0,-4.37Z" fill="#dfe0e4" stroke="#54535c" stroke-width="0.45"/>
<rect x="-1.10" y="-0.5" width="2.20" height="1.3" fill="#555a66"/>
<rect x="-0.77" y="-2.9" width="1.54" height="0.8" fill="#777b88"/>
</g>
<g transform="translate(202.6,168.0) rotate(-45)">
<path d="M0,-5.01 C2.17,-2.76 2.07,2.51 1.66,5.01 L-1.66,5.01 C-2.07,2.51 -2.17,-2.76 0,-5.01Z" fill="#f8f8f8" stroke="#54535c" stroke-width="0.45"/>
<rect x="-1.04" y="-0.3" width="2.07" height="1.4" fill="#555a66"/>
<rect x="-0.72" y="-3.0" width="1.45" height="0.8" fill="#777b88"/>
</g>
<g transform="translate(205.8,166.7) rotate(-45)">
<path d="M0,-5.53 C1.94,-3.04 1.84,2.76 1.47,5.53 L-1.47,5.53 C-1.84,2.76 -1.94,-3.04 0,-5.53Z" fill="#f8f8f8" stroke="#54535c" stroke-width="0.45"/>
<rect x="-0.92" y="-0.4" width="1.84" height="1.7" fill="#444a80"/>
</g>
<g transform="translate(211.9,160.1) rotate(-45)">
<path d="M0,-5.50 C1.90,-3.03 1.81,2.75 1.45,5.50 L-1.45,5.50 C-1.81,2.75 -1.90,-3.03 0,-5.50Z" fill="#f4f4f4" stroke="#54535c" stroke-width="0.45"/>
<rect x="-0.90" y="-0.7" width="1.81" height="1.3" fill="#555a66"/>
<rect x="-0.63" y="-2.9" width="1.27" height="0.8" fill="#777b88"/>
</g>
<g transform="translate(209.2,143.0) rotate(135)">
<path d="M0,-4.90 C2.13,-2.70 2.03,2.45 1.62,4.90 L-1.62,4.90 C-2.03,2.45 -2.13,-2.70 0,-4.90Z" fill="#ffffff" stroke="#54535c" stroke-width="0.45"/>
<rect x="-1.01" y="-0.2" width="2.03" height="1.6" fill="#6a6d78"/>
<rect x="-0.71" y="-2.9" width="1.42" height="0.8" fill="#777b88"/>
</g>
<g transform="translate(215.3,137.7) rotate(135)">
<path d="M0,-4.85 C2.09,-2.67 1.99,2.42 1.59,4.85 L-1.59,4.85 C-1.99,2.42 -2.09,-2.67 0,-4.85Z" fill="#dfe0e4" stroke="#54535c" stroke-width="0.45"/>
<rect x="-1.00" y="-0.6" width="1.99" height="1.4" fill="#2f3350"/>
</g>
<g transform="translate(221.1,130.3) rotate(135)">
<path d="M0,-5.82 C1.94,-3.20 1.85,2.91 1.48,5.82 L-1.48,5.82 C-1.85,2.91 -1.94,-3.20 0,-5.82Z" fill="#e9e9ec" stroke="#54535c" stroke-width="0.45"/>
<rect x="-0.92" y="-0.2" width="1.85" height="1.5" fill="#555a66"/>
<rect x="-0.65" y="-2.8" width="1.29" height="0.8" fill="#777b88"/>
</g>
<g transform="translate(224.3,127.2) rotate(135)">
<path d="M0,-5.78 C2.34,-3.18 2.23,2.89 1.79,5.78 L-1.79,5.78 C-2.23,2.89 -2.34,-3.18 0,-5.78Z" fill="#f4f4f4" stroke="#54535c" stroke-width="0.45"/>
<rect x="-1.12" y="-0.1" width="2.23" height="1.6" fill="#3c4070"/>
</g>
<g transform="translate(218.5,152.2) rotate(-45)">
<path d="M0,-5.18 C2.09,-2.85 1.99,2.59 1.59,5.18 L-1.59,5.18 C-1.99,2.59 -2.09,-2.85 0,-5.18Z" fill="#ffffff" stroke="#54535c" stroke-width="0.45"/>
<rect x="-0.99" y="0.7" width="1.99" height="1.7" fill="#6a6d78"/>
</g>
<g transform="translate(222.4,148.8) rotate(-45)">
<path d="M0,-5.09 C2.06,-2.80 1.97,2.55 1.57,5.09 L-1.57,5.09 C-1.97,2.55 -2.06,-2.80 0,-5.09Z" fill="#ffffff" stroke="#54535c" stroke-width="0.45"/>
<rect x="-0.98" y="-0.6" width="1.97" height="1.4" fill="#555a66"/>
</g>
<g transform="translate(225.8,145.1) rotate(-45)">
<path d="M0,-5.32 C2.21,-2.92 2.11,2.66 1.68,5.32 L-1.68,5.32 C-2.11,2.66 -2.21,-2.92 0,-5.32Z" fill="#f8f8f8" stroke="#54535c" stroke-width="0.45"/>
<rect x="-1.05" y="0.1" width="2.11" height="1.0" fill="#3c4070"/>
</g>
<g transform="translate(229.5,141.9) rotate(-45)">
<path d="M0,-5.04 C2.32,-2.77 2.21,2.52 1.77,5.04 L-1.77,5.04 C-2.21,2.52 -2.32,-2.77 0,-5.04Z" fill="#e9e9ec" stroke="#54535c" stroke-width="0.45"/>
<rect x="-1.10" y="0.2" width="2.21" height="1.4" fill="#555a66"/>
<rect x="-0.77" y="-2.3" width="1.55" height="0.8" fill="#777b88"/>
</g>
<g transform="translate(233.0,139.0) rotate(-45)">
<path d="M0,-5.20 C1.99,-2.86 1.89,2.60 1.51,5.20 L-1.51,5.20 C-1.89,2.60 -1.99,-2.86 0,-5.20Z" fill="#dfe0e4" stroke="#54535c" stroke-width="0.45"/>
<rect x="-0.95" y="-0.2" width="1.89" height="1.2" fill="#555a66"/>
</g>
<g transform="translate(141.2,32.1) rotate(135)">
<path d="M0,-6.26 C1.99,-3.45 1.89,3.13 1.51,6.26 L-1.51,6.26 C-1.89,3.13 -1.99,-3.45 0,-6.26Z" fill="#f8f8f8" stroke="#54535c" stroke-width="0.45"/>
<rect x="-0.95" y="0.7" width="1.89" height="1.5" fill="#2f3350"/>
</g>
<g transform="translate(137.9,38.6) rotate(135)">
<path d="M0,-5.47 C1.95,-3.01 1.86,2.74 1.49,5.47 L-1.49,5.47 C-1.86,2.74 -1.95,-3.01 0,-5.47Z" fill="#f4f4f4" stroke="#54535c" stroke-width="0.45"/>
<rect x="-0.93" y="0.7" width="1.86" height="1.6" fill="#3c4070"/>
<rect x="-0.65" y="-3.2" width="1.30" height="0.8" fill="#777b88"/>
</g>
<g transform="translate(154.3,45.1) rotate(-45)">
<path d="M0,-6.77 C2.19,-3.73 2.08,3.39 1.67,6.77 L-1.67,6.77 C-2.08,3.39 -2.19,-3.73 0,-6.77Z" fill="#f8f8f8" stroke="#54535c" stroke-width="0.45"/>
<rect x="-1.04" y="-0.4" width="2.08" height="1.5" fill="#3c4070"/>
</g>
<g transform="translate(151.0,48.4) rotate(-45)">
<path d="M0,-6.49 C1.84,-3.57 1.75,3.25 1.40,6.49 L-1.40,6.49 C-1.75,3.25 -1.84,-3.57 0,-6.49Z" fill="#e9e9ec" stroke="#54535c" stroke-width="0.45"/>
<rect x="-0.88" y="-0.2" width="1.75" height="1.3" fill="#6a6d78"/>
<rect x="-0.61" y="-2.8" width="1.23" height="0.8" fill="#777b88"/>
</g>
<g transform="translate(137.9,64.8) rotate(-45)">
<path d="M0,-7.13 C1.86,-3.92 1.77,3.57 1.42,7.13 L-1.42,7.13 C-1.77,3.57 -1.86,-3.92 0,-7.13Z" fill="#f8f8f8" stroke="#54535c" stroke-width="0.45"/>
<rect x="-0.89" y="-0.3" width="1.77" height="1.7" fill="#555a66"/>
<rect x="-0.62" y="-2.9" width="1.24" height="0.8" fill="#777b88"/>
</g>
<g transform="translate(88.9,84.4) rotate(135)">
<path d="M0,-7.05 C1.98,-3.88 1.89,3.52 1.51,7.05 L-1.51,7.05 C-1.89,3.52 -1.98,-3.88 0,-7.05Z" fill="#dfe0e4" stroke="#54535c" stroke-width="0.45"/>
<rect x="-0.94" y="0.2" width="1.89" height="1.7" fill="#6a6d78"/>
<rect x="-0.66" y="-2.1" width="1.32" height="0.8" fill="#777b88"/>
</g>
<g transform="translate(105.2,97.5) rotate(-45)">
<path d="M0,-6.31 C2.14,-3.47 2.04,3.16 1.63,6.31 L-1.63,6.31 C-2.04,3.16 -2.14,-3.47 0,-6.31Z" fill="#f8f8f8" stroke="#54535c" stroke-width="0.45"/>
<rect x="-1.02" y="-0.5" width="2.04" height="1.8" fill="#3c4070"/>
<rect x="-0.71" y="-3.1" width="1.43" height="0.8" fill="#777b88"/>
</g>
<g transform="translate(142.8,120.8) rotate(-45)">
<path d="M0,-5.74 C2.04,-3.16 1.94,2.87 1.55,5.74 L-1.55,5.74 C-1.94,2.87 -2.04,-3.16 0,-5.74Z" fill="#e9e9ec" stroke="#54535c" stroke-width="0.45"/>
<rect x="-0.97" y="0.8" width="1.94" height="1.7" fill="#3c4070"/>
<rect x="-0.68" y="-3.0" width="1.36" height="0.8" fill="#777b88"/>
</g>
<g transform="translate(146.6,116.9) rotate(-45)">
<path d="M0,-6.57 C2.22,-3.61 2.12,3.28 1.69,6.57 L-1.69,6.57 C-2.12,3.28 -2.22,-3.61 0,-6.57Z" fill="#ffffff" stroke="#54535c" stroke-width="0.45"/>
<rect x="-1.06" y="0.3" width="2.12" height="1.3" fill="#2f3350"/>
<rect x="-0.74" y="-2.8" width="1.48" height="0.8" fill="#777b88"/>
</g>
<g transform="translate(157.9,143.3) rotate(135)">
<path d="M0,-5.84 C1.83,-3.21 1.74,2.92 1.39,5.84 L-1.39,5.84 C-1.74,2.92 -1.83,-3.21 0,-5.84Z" fill="#e9e9ec" stroke="#54535c" stroke-width="0.45"/>
<rect x="-0.87" y="-0.2" width="1.74" height="1.8" fill="#3c4070"/>
<rect x="-0.61" y="-2.0" width="1.22" height="0.8" fill="#777b88"/>
</g>
<g transform="translate(202.0,148.2) rotate(135)">
<path d="M0,-5.88 C2.02,-3.23 1.92,2.94 1.54,5.88 L-1.54,5.88 C-1.92,2.94 -2.02,-3.23 0,-5.88Z" fill="#e9e9ec" stroke="#54535c" stroke-width="0.45"/>
<rect x="-0.96" y="-0.7" width="1.92" height="1.6" fill="#6a6d78"/>
<rect x="-0.67" y="-2.6" width="1.34" height="0.8" fill="#777b88"/>
</g>
</g>
</g>
<rect x="80.70" y="10.80" width="163.50" height="163.50" fill="none" stroke="#222" stroke-width="0.5"/>
<polygon points="179.1,50.4 201.0,71.3 134.0,138.4 112.3,117.3" fill="none" stroke="#3b5cf0" stroke-width="1.9" stroke-linejoin="miter"/>
<polygon points="128.3,32.0 133.2,28.0 144.8,39.4 139.9,43.7" fill="none" stroke="#f4504c" stroke-width="1.8" stroke-linejoin="miter"/>
<polygon points="198.6,92.1 204.3,87.5 214.8,98.3 209.4,102.9" fill="none" stroke="#f4504c" stroke-width="1.8" stroke-linejoin="miter"/>
<text x="192.7" y="58.5" class="sf" font-size="14.3" fill="#3b5cf0" stroke="#3b5cf0" stroke-width="0.3">Harbor</text>
<text x="208.6" y="90" class="sf" font-size="14.4" fill="#f4504c" stroke="#f4504c" stroke-width="0.3">Ship</text>
<line x1="80.70" y1="174.30" x2="80.70" y2="176.40" stroke="#222" stroke-width="0.55"/>
<text x="80.70" y="182.10" text-anchor="middle" class="tk">0</text>
<line x1="101.14" y1="174.30" x2="101.14" y2="176.40" stroke="#222" stroke-width="0.55"/>
<text x="101.14" y="182.10" text-anchor="middle" class="tk">100</text>
<line x1="121.58" y1="174.30" x2="121.58" y2="176.40" stroke="#222" stroke-width="0.55"/>
<text x="121.58" y="182.10" text-anchor="middle" class="tk">200</text>
<line x1="142.01" y1="174.30" x2="142.01" y2="176.40" stroke="#222" stroke-width="0.55"/>
<text x="142.01" y="182.10" text-anchor="middle" class="tk">300</text>
<line x1="162.45" y1="174.30" x2="162.45" y2="176.40" stroke="#222" stroke-width="0.55"/>
<text x="162.45" y="182.10" text-anchor="middle" class="tk">400</text>
<line x1="182.89" y1="174.30" x2="182.89" y2="176.40" stroke="#222" stroke-width="0.55"/>
<text x="182.89" y="182.10" text-anchor="middle" class="tk">500</text>
<line x1="203.32" y1="174.30" x2="203.32" y2="176.40" stroke="#222" stroke-width="0.55"/>
<text x="203.32" y="182.10" text-anchor="middle" class="tk">600</text>
<line x1="223.76" y1="174.30" x2="223.76" y2="176.40" stroke="#222" stroke-width="0.55"/>
<text x="223.76" y="182.10" text-anchor="middle" class="tk">700</text>
<line x1="78.60" y1="10.80" x2="80.70" y2="10.80" stroke="#222" stroke-width="0.55"/>
<text x="76.30" y="12.80" text-anchor="end" class="tk">0</text>
<line x1="78.60" y1="31.24" x2="80.70" y2="31.24" stroke="#222" stroke-width="0.55"/>
<text x="76.30" y="33.24" text-anchor="end" class="tk">100</text>
<line x1="78.60" y1="51.67" x2="80.70" y2="51.67" stroke="#222" stroke-width="0.55"/>
<text x="76.30" y="53.67" text-anchor="end" class="tk">200</text>
<line x1="78.60" y1="72.11" x2="80.70" y2="72.11" stroke="#222" stroke-width="0.55"/>
<text x="76.30" y="74.11" text-anchor="end" class="tk">300</text>
<line x1="78.60" y1="92.55" x2="80.70" y2="92.55" stroke="#222" stroke-width="0.55"/>
<text x="76.30" y="94.55" text-anchor="end" class="tk">400</text>
<line x1="78.60" y1="112.99" x2="80.70" y2="112.99" stroke="#222" stroke-width="0.55"/>
<text x="76.30" y="114.99" text-anchor="end" class="tk">500</text>
<line x1="78.60" y1="133.43" x2="80.70" y2="133.43" stroke="#222" stroke-width="0.55"/>
<text x="76.30" y="135.43" text-anchor="end" class="tk">600</text>
<line x1="78.60" y1="153.86" x2="80.70" y2="153.86" stroke="#222" stroke-width="0.55"/>
<text x="76.30" y="155.86" text-anchor="end" class="tk">700</text>
<text x="161" y="197.7" text-anchor="middle" font-size="12" fill="#000" stroke="#000" stroke-width="0.18">(a)</text>
<g clip-path="url(#cb)">
<rect x="292.00" y="10.80" width="163.80" height="163.50" fill="#000080"/>
<circle cx="299.1" cy="22.1" r="0.9" fill="#50c080" opacity="0.55"/>
<circle cx="299.1" cy="22.1" r="0.42" fill="#d0e070" opacity="0.9"/>
<circle cx="301.5" cy="20.3" r="0.9" fill="#50c080" opacity="0.55"/>
<circle cx="301.5" cy="20.3" r="0.42" fill="#d0e070" opacity="0.9"/>
<circle cx="303.6" cy="18.7" r="0.9" fill="#50c080" opacity="0.55"/>
<circle cx="303.6" cy="18.7" r="0.42" fill="#d0e070" opacity="0.9"/>
<circle cx="329.2" cy="15.5" r="0.9" fill="#50c080" opacity="0.55"/>
<circle cx="329.2" cy="15.5" r="0.42" fill="#d0e070" opacity="0.9"/>
<circle cx="311.0" cy="33.2" r="0.9" fill="#50c080" opacity="0.55"/>
<circle cx="311.0" cy="33.2" r="0.42" fill="#d0e070" opacity="0.9"/>
<circle cx="314.7" cy="30.0" r="0.9" fill="#50c080" opacity="0.55"/>
<circle cx="314.7" cy="30.0" r="0.42" fill="#d0e070" opacity="0.9"/>
<circle cx="318.1" cy="27.4" r="0.9" fill="#50c080" opacity="0.55"/>
<circle cx="318.1" cy="27.4" r="0.42" fill="#d0e070" opacity="0.9"/>
<circle cx="322.6" cy="23.4" r="0.9" fill="#50c080" opacity="0.55"/>
<circle cx="322.6" cy="23.4" r="0.42" fill="#d0e070" opacity="0.9"/>
<circle cx="358.3" cy="30.0" r="0.9" fill="#50c080" opacity="0.55"/>
<circle cx="358.3" cy="30.0" r="0.42" fill="#d0e070" opacity="0.9"/>
<circle cx="368.3" cy="40.1" r="0.9" fill="#50c080" opacity="0.55"/>
<circle cx="368.3" cy="40.1" r="0.42" fill="#d0e070" opacity="0.9"/>
<circle cx="304.1" cy="80.2" r="0.9" fill="#50c080" opacity="0.55"/>
<circle cx="304.1" cy="80.2" r="0.42" fill="#d0e070" opacity="0.9"/>
<circle cx="308.4" cy="77.1" r="0.9" fill="#50c080" opacity="0.55"/>
<circle cx="308.4" cy="77.1" r="0.42" fill="#d0e070" opacity="0.9"/>
<circle cx="312.9" cy="73.6" r="0.9" fill="#50c080" opacity="0.55"/>
<circle cx="312.9" cy="73.6" r="0.42" fill="#d0e070" opacity="0.9"/>
<circle cx="316.3" cy="70.2" r="0.9" fill="#50c080" opacity="0.55"/>
<circle cx="316.3" cy="70.2" r="0.42" fill="#d0e070" opacity="0.9"/>
<circle cx="319.5" cy="67.0" r="0.9" fill="#50c080" opacity="0.55"/>
<circle cx="319.5" cy="67.0" r="0.42" fill="#d0e070" opacity="0.9"/>
<circle cx="322.6" cy="63.9" r="0.9" fill="#50c080" opacity="0.55"/>
<circle cx="322.6" cy="63.9" r="0.42" fill="#d0e070" opacity="0.9"/>
<circle cx="326.1" cy="60.4" r="0.9" fill="#50c080" opacity="0.55"/>
<circle cx="326.1" cy="60.4" r="0.42" fill="#d0e070" opacity="0.9"/>
<circle cx="330.0" cy="57.0" r="0.9" fill="#50c080" opacity="0.55"/>
<circle cx="330.0" cy="57.0" r="0.42" fill="#d0e070" opacity="0.9"/>
<circle cx="333.5" cy="53.3" r="0.9" fill="#50c080" opacity="0.55"/>
<circle cx="333.5" cy="53.3" r="0.42" fill="#d0e070" opacity="0.9"/>
<circle cx="337.4" cy="49.8" r="0.9" fill="#50c080" opacity="0.55"/>
<circle cx="337.4" cy="49.8" r="0.42" fill="#d0e070" opacity="0.9"/>
<circle cx="340.6" cy="46.4" r="0.9" fill="#50c080" opacity="0.55"/>
<circle cx="340.6" cy="46.4" r="0.42" fill="#d0e070" opacity="0.9"/>
<circle cx="346.7" cy="41.9" r="0.9" fill="#50c080" opacity="0.55"/>
<circle cx="346.7" cy="41.9" r="0.42" fill="#d0e070" opacity="0.9"/>
<circle cx="317.6" cy="94.0" r="0.9" fill="#50c080" opacity="0.55"/>
<circle cx="317.6" cy="94.0" r="0.42" fill="#d0e070" opacity="0.9"/>
<circle cx="322.1" cy="89.5" r="0.9" fill="#50c080" opacity="0.55"/>
<circle cx="322.1" cy="89.5" r="0.42" fill="#d0e070" opacity="0.9"/>
<circle cx="325.3" cy="86.3" r="0.9" fill="#50c080" opacity="0.55"/>
<circle cx="325.3" cy="86.3" r="0.42" fill="#d0e070" opacity="0.9"/>
<circle cx="328.7" cy="82.9" r="0.9" fill="#50c080" opacity="0.55"/>
<circle cx="328.7" cy="82.9" r="0.42" fill="#d0e070" opacity="0.9"/>
<circle cx="332.1" cy="79.4" r="0.9" fill="#50c080" opacity="0.55"/>
<circle cx="332.1" cy="79.4" r="0.42" fill="#d0e070" opacity="0.9"/>
<circle cx="335.3" cy="76.3" r="0.9" fill="#50c080" opacity="0.55"/>
<circle cx="335.3" cy="76.3" r="0.42" fill="#d0e070" opacity="0.9"/>
<circle cx="338.5" cy="73.1" r="0.9" fill="#50c080" opacity="0.55"/>
<circle cx="338.5" cy="73.1" r="0.42" fill="#d0e070" opacity="0.9"/>
<circle cx="342.2" cy="68.9" r="0.9" fill="#50c080" opacity="0.55"/>
<circle cx="342.2" cy="68.9" r="0.42" fill="#d0e070" opacity="0.9"/>
<circle cx="350.6" cy="61.2" r="0.9" fill="#50c080" opacity="0.55"/>
<circle cx="350.6" cy="61.2" r="0.42" fill="#d0e070" opacity="0.9"/>
<circle cx="353.8" cy="57.2" r="0.9" fill="#50c080" opacity="0.55"/>
<circle cx="353.8" cy="57.2" r="0.42" fill="#d0e070" opacity="0.9"/>
<circle cx="358.6" cy="53.3" r="0.9" fill="#50c080" opacity="0.55"/>
<circle cx="358.6" cy="53.3" r="0.42" fill="#d0e070" opacity="0.9"/>
<circle cx="359.9" cy="92.9" r="0.9" fill="#50c080" opacity="0.55"/>
<circle cx="359.9" cy="92.9" r="0.42" fill="#d0e070" opacity="0.9"/>
<circle cx="363.8" cy="90.3" r="0.9" fill="#50c080" opacity="0.55"/>
<circle cx="363.8" cy="90.3" r="0.42" fill="#d0e070" opacity="0.9"/>
<circle cx="367.0" cy="87.6" r="0.9" fill="#50c080" opacity="0.55"/>
<circle cx="367.0" cy="87.6" r="0.42" fill="#d0e070" opacity="0.9"/>
<circle cx="374.9" cy="79.7" r="0.9" fill="#50c080" opacity="0.55"/>
<circle cx="374.9" cy="79.7" r="0.42" fill="#d0e070" opacity="0.9"/>
<circle cx="378.9" cy="76.3" r="0.9" fill="#50c080" opacity="0.55"/>
<circle cx="378.9" cy="76.3" r="0.42" fill="#d0e070" opacity="0.9"/>
<circle cx="381.5" cy="73.6" r="0.9" fill="#50c080" opacity="0.55"/>
<circle cx="381.5" cy="73.6" r="0.42" fill="#d0e070" opacity="0.9"/>
<circle cx="385.0" cy="68.3" r="0.9" fill="#50c080" opacity="0.55"/>
<circle cx="385.0" cy="68.3" r="0.42" fill="#d0e070" opacity="0.9"/>
<circle cx="390.8" cy="63.6" r="0.9" fill="#50c080" opacity="0.55"/>
<circle cx="390.8" cy="63.6" r="0.42" fill="#d0e070" opacity="0.9"/>
<circle cx="335.3" cy="117.2" r="0.9" fill="#50c080" opacity="0.55"/>
<circle cx="335.3" cy="117.2" r="0.42" fill="#d0e070" opacity="0.9"/>
<circle cx="339.3" cy="114.6" r="0.9" fill="#50c080" opacity="0.55"/>
<circle cx="339.3" cy="114.6" r="0.42" fill="#d0e070" opacity="0.9"/>
<circle cx="342.7" cy="111.4" r="0.9" fill="#50c080" opacity="0.55"/>
<circle cx="342.7" cy="111.4" r="0.42" fill="#d0e070" opacity="0.9"/>
<circle cx="345.9" cy="108.0" r="0.9" fill="#50c080" opacity="0.55"/>
<circle cx="345.9" cy="108.0" r="0.42" fill="#d0e070" opacity="0.9"/>
<circle cx="349.1" cy="104.5" r="0.9" fill="#50c080" opacity="0.55"/>
<circle cx="349.1" cy="104.5" r="0.42" fill="#d0e070" opacity="0.9"/>
<circle cx="351.7" cy="100.8" r="0.9" fill="#50c080" opacity="0.55"/>
<circle cx="351.7" cy="100.8" r="0.42" fill="#d0e070" opacity="0.9"/>
<circle cx="367.0" cy="107.2" r="0.9" fill="#50c080" opacity="0.55"/>
<circle cx="367.0" cy="107.2" r="0.42" fill="#d0e070" opacity="0.9"/>
<circle cx="374.4" cy="101.4" r="0.9" fill="#50c080" opacity="0.55"/>
<circle cx="374.4" cy="101.4" r="0.42" fill="#d0e070" opacity="0.9"/>
<circle cx="378.9" cy="97.7" r="0.9" fill="#50c080" opacity="0.55"/>
<circle cx="378.9" cy="97.7" r="0.42" fill="#d0e070" opacity="0.9"/>
<circle cx="382.9" cy="94.0" r="0.9" fill="#50c080" opacity="0.55"/>
<circle cx="382.9" cy="94.0" r="0.42" fill="#d0e070" opacity="0.9"/>
<circle cx="392.1" cy="83.4" r="0.9" fill="#50c080" opacity="0.55"/>
<circle cx="392.1" cy="83.4" r="0.42" fill="#d0e070" opacity="0.9"/>
<circle cx="396.1" cy="78.9" r="0.9" fill="#50c080" opacity="0.55"/>
<circle cx="396.1" cy="78.9" r="0.42" fill="#d0e070" opacity="0.9"/>
<circle cx="400.0" cy="73.6" r="0.9" fill="#50c080" opacity="0.55"/>
<circle cx="400.0" cy="73.6" r="0.42" fill="#d0e070" opacity="0.9"/>
<circle cx="349.1" cy="125.1" r="0.9" fill="#50c080" opacity="0.55"/>
<circle cx="349.1" cy="125.1" r="0.42" fill="#d0e070" opacity="0.9"/>
<circle cx="347.2" cy="129.6" r="0.9" fill="#50c080" opacity="0.55"/>
<circle cx="347.2" cy="129.6" r="0.42" fill="#d0e070" opacity="0.9"/>
<circle cx="397.4" cy="117.2" r="0.9" fill="#50c080" opacity="0.55"/>
<circle cx="397.4" cy="117.2" r="0.42" fill="#d0e070" opacity="0.9"/>
<circle cx="401.4" cy="113.8" r="0.9" fill="#50c080" opacity="0.55"/>
<circle cx="401.4" cy="113.8" r="0.42" fill="#d0e070" opacity="0.9"/>
<circle cx="404.5" cy="110.9" r="0.9" fill="#50c080" opacity="0.55"/>
<circle cx="404.5" cy="110.9" r="0.42" fill="#d0e070" opacity="0.9"/>
<circle cx="408.0" cy="108.0" r="0.9" fill="#50c080" opacity="0.55"/>
<circle cx="408.0" cy="108.0" r="0.42" fill="#d0e070" opacity="0.9"/>
<circle cx="411.4" cy="104.5" r="0.9" fill="#50c080" opacity="0.55"/>
<circle cx="411.4" cy="104.5" r="0.42" fill="#d0e070" opacity="0.9"/>
<circle cx="414.6" cy="101.4" r="0.9" fill="#50c080" opacity="0.55"/>
<circle cx="414.6" cy="101.4" r="0.42" fill="#d0e070" opacity="0.9"/>
<circle cx="418.5" cy="97.7" r="0.9" fill="#50c080" opacity="0.55"/>
<circle cx="418.5" cy="97.7" r="0.42" fill="#d0e070" opacity="0.9"/>
<circle cx="421.7" cy="94.8" r="0.9" fill="#50c080" opacity="0.55"/>
<circle cx="421.7" cy="94.8" r="0.42" fill="#d0e070" opacity="0.9"/>
<circle cx="390.8" cy="124.4" r="0.9" fill="#50c080" opacity="0.55"/>
<circle cx="390.8" cy="124.4" r="0.42" fill="#d0e070" opacity="0.9"/>
<circle cx="406.1" cy="128.3" r="0.9" fill="#50c080" opacity="0.55"/>
<circle cx="406.1" cy="128.3" r="0.42" fill="#d0e070" opacity="0.9"/>
<circle cx="409.3" cy="125.1" r="0.9" fill="#50c080" opacity="0.55"/>
<circle cx="409.3" cy="125.1" r="0.42" fill="#d0e070" opacity="0.9"/>
<circle cx="412.5" cy="122.0" r="0.9" fill="#50c080" opacity="0.55"/>
<circle cx="412.5" cy="122.0" r="0.42" fill="#d0e070" opacity="0.9"/>
<circle cx="415.9" cy="118.5" r="0.9" fill="#50c080" opacity="0.55"/>
<circle cx="415.9" cy="118.5" r="0.42" fill="#d0e070" opacity="0.9"/>
<circle cx="419.9" cy="114.6" r="0.9" fill="#50c080" opacity="0.55"/>
<circle cx="419.9" cy="114.6" r="0.42" fill="#d0e070" opacity="0.9"/>
<circle cx="377.6" cy="138.4" r="0.9" fill="#50c080" opacity="0.55"/>
<circle cx="377.6" cy="138.4" r="0.42" fill="#d0e070" opacity="0.9"/>
<circle cx="381.5" cy="135.2" r="0.9" fill="#50c080" opacity="0.55"/>
<circle cx="381.5" cy="135.2" r="0.42" fill="#d0e070" opacity="0.9"/>
<circle cx="385.0" cy="132.5" r="0.9" fill="#50c080" opacity="0.55"/>
<circle cx="385.0" cy="132.5" r="0.42" fill="#d0e070" opacity="0.9"/>
<circle cx="392.9" cy="142.8" r="0.9" fill="#50c080" opacity="0.55"/>
<circle cx="392.9" cy="142.8" r="0.42" fill="#d0e070" opacity="0.9"/>
<circle cx="398.7" cy="135.7" r="0.9" fill="#50c080" opacity="0.55"/>
<circle cx="398.7" cy="135.7" r="0.42" fill="#d0e070" opacity="0.9"/>
<circle cx="386.8" cy="148.9" r="0.9" fill="#50c080" opacity="0.55"/>
<circle cx="386.8" cy="148.9" r="0.42" fill="#d0e070" opacity="0.9"/>
<circle cx="381.5" cy="155.5" r="0.9" fill="#50c080" opacity="0.55"/>
<circle cx="381.5" cy="155.5" r="0.42" fill="#d0e070" opacity="0.9"/>
<circle cx="367.0" cy="148.9" r="0.9" fill="#50c080" opacity="0.55"/>
<circle cx="367.0" cy="148.9" r="0.42" fill="#d0e070" opacity="0.9"/>
<circle cx="371.0" cy="160.8" r="0.9" fill="#50c080" opacity="0.55"/>
<circle cx="371.0" cy="160.8" r="0.42" fill="#d0e070" opacity="0.9"/>
<circle cx="406.1" cy="155.5" r="0.9" fill="#50c080" opacity="0.55"/>
<circle cx="406.1" cy="155.5" r="0.42" fill="#d0e070" opacity="0.9"/>
<circle cx="411.4" cy="155.0" r="0.9" fill="#50c080" opacity="0.55"/>
<circle cx="411.4" cy="155.0" r="0.42" fill="#d0e070" opacity="0.9"/>
<circle cx="400.0" cy="166.1" r="0.9" fill="#50c080" opacity="0.55"/>
<circle cx="400.0" cy="166.1" r="0.42" fill="#d0e070" opacity="0.9"/>
<circle cx="403.5" cy="164.8" r="0.9" fill="#50c080" opacity="0.55"/>
<circle cx="403.5" cy="164.8" r="0.42" fill="#d0e070" opacity="0.9"/>
<circle cx="414.6" cy="168.7" r="0.9" fill="#50c080" opacity="0.55"/>
<circle cx="414.6" cy="168.7" r="0.42" fill="#d0e070" opacity="0.9"/>
<circle cx="417.7" cy="167.4" r="0.9" fill="#50c080" opacity="0.55"/>
<circle cx="417.7" cy="167.4" r="0.42" fill="#d0e070" opacity="0.9"/>
<circle cx="423.8" cy="160.8" r="0.9" fill="#50c080" opacity="0.55"/>
<circle cx="423.8" cy="160.8" r="0.42" fill="#d0e070" opacity="0.9"/>
<circle cx="421.2" cy="143.6" r="0.9" fill="#50c080" opacity="0.55"/>
<circle cx="421.2" cy="143.6" r="0.42" fill="#d0e070" opacity="0.9"/>
<circle cx="427.3" cy="138.4" r="0.9" fill="#50c080" opacity="0.55"/>
<circle cx="427.3" cy="138.4" r="0.42" fill="#d0e070" opacity="0.9"/>
<circle cx="433.1" cy="131.0" r="0.9" fill="#50c080" opacity="0.55"/>
<circle cx="433.1" cy="131.0" r="0.42" fill="#d0e070" opacity="0.9"/>
<circle cx="436.2" cy="127.8" r="0.9" fill="#50c080" opacity="0.55"/>
<circle cx="436.2" cy="127.8" r="0.42" fill="#d0e070" opacity="0.9"/>
<circle cx="430.4" cy="152.9" r="0.9" fill="#50c080" opacity="0.55"/>
<circle cx="430.4" cy="152.9" r="0.42" fill="#d0e070" opacity="0.9"/>
<circle cx="434.4" cy="149.4" r="0.9" fill="#50c080" opacity="0.55"/>
<circle cx="434.4" cy="149.4" r="0.42" fill="#d0e070" opacity="0.9"/>
<circle cx="437.8" cy="145.8" r="0.9" fill="#50c080" opacity="0.55"/>
<circle cx="437.8" cy="145.8" r="0.42" fill="#d0e070" opacity="0.9"/>
<circle cx="441.5" cy="142.6" r="0.9" fill="#50c080" opacity="0.55"/>
<circle cx="441.5" cy="142.6" r="0.42" fill="#d0e070" opacity="0.9"/>
<circle cx="445.0" cy="139.7" r="0.9" fill="#50c080" opacity="0.55"/>
<circle cx="445.0" cy="139.7" r="0.42" fill="#d0e070" opacity="0.9"/>
<circle cx="353.0" cy="32.5" r="0.9" fill="#50c080" opacity="0.55"/>
<circle cx="353.0" cy="32.5" r="0.42" fill="#d0e070" opacity="0.9"/>
<circle cx="349.7" cy="39.1" r="0.9" fill="#50c080" opacity="0.55"/>
<circle cx="349.7" cy="39.1" r="0.42" fill="#d0e070" opacity="0.9"/>
<circle cx="366.1" cy="45.6" r="0.9" fill="#50c080" opacity="0.55"/>
<circle cx="366.1" cy="45.6" r="0.42" fill="#d0e070" opacity="0.9"/>
<circle cx="362.8" cy="48.9" r="0.9" fill="#50c080" opacity="0.55"/>
<circle cx="362.8" cy="48.9" r="0.42" fill="#d0e070" opacity="0.9"/>
<circle cx="349.7" cy="65.3" r="0.9" fill="#50c080" opacity="0.55"/>
<circle cx="349.7" cy="65.3" r="0.42" fill="#d0e070" opacity="0.9"/>
<circle cx="300.6" cy="84.9" r="0.9" fill="#50c080" opacity="0.55"/>
<circle cx="300.6" cy="84.9" r="0.42" fill="#d0e070" opacity="0.9"/>
<circle cx="317.0" cy="98.0" r="0.9" fill="#50c080" opacity="0.55"/>
<circle cx="317.0" cy="98.0" r="0.42" fill="#d0e070" opacity="0.9"/>
<circle cx="335.0" cy="63.6" r="7.78" fill="url(#gb)"/>
<circle cx="368.6" cy="95.6" r="7.78" fill="url(#gb)"/>
<circle cx="399.7" cy="125.1" r="7.78" fill="url(#gb)"/>
<circle cx="420.2" cy="148.8" r="5.90" fill="url(#gb)"/>
</g>
<rect x="292.00" y="10.80" width="163.80" height="163.50" fill="none" stroke="#222" stroke-width="0.5"/>
<polygon points="389.4,51.9 410.1,73.0 342.7,140.1 321.9,119.0" fill="none" stroke="#3f62f5" stroke-width="1.7" stroke-linejoin="miter"/>
<line x1="368.5" y1="95.3" x2="400.5" y2="56.0" stroke="#3f62f5" stroke-width="1.3"/>
<polygon points="403.0,52.9 402.2,57.4 398.8,54.6" fill="#3f62f5"/>
<polygon points="409.5,94.1 415.3,88.5 424.4,98.3 418.6,103.8" fill="none" stroke="#f4504c" stroke-width="1.5" stroke-linejoin="miter"/>
<line x1="417.0" y1="96.3" x2="420.1" y2="87.1" stroke="#f4504c" stroke-width="1.3"/>
<polygon points="421.2,83.7 421.9,87.7 418.2,86.5" fill="#f4504c"/>
<text x="392.3" y="50.3" class="sf" font-size="14.1" fill="#4a6cf2">Harbor</text>
<text x="424.4" y="81.7" class="sf" font-size="14.3" fill="#f4504c">Ship</text>
<text x="362.4" y="21.2" class="ti" font-size="9.9" textLength="80.2" lengthAdjust="spacingAndGlyphs">Higher Resolution</text>
<text x="358.5" y="34.0" class="ti" font-size="9.9" textLength="88.3" lengthAdjust="spacingAndGlyphs">Gaussian Keypoints</text>
<line x1="292.41" y1="174.30" x2="292.41" y2="176.40" stroke="#222" stroke-width="0.55"/>
<text x="292.41" y="182.10" text-anchor="middle" class="tk">0</text>
<line x1="312.88" y1="174.30" x2="312.88" y2="176.40" stroke="#222" stroke-width="0.55"/>
<text x="312.88" y="182.10" text-anchor="middle" class="tk">25</text>
<line x1="333.36" y1="174.30" x2="333.36" y2="176.40" stroke="#222" stroke-width="0.55"/>
<text x="333.36" y="182.10" text-anchor="middle" class="tk">50</text>
<line x1="353.83" y1="174.30" x2="353.83" y2="176.40" stroke="#222" stroke-width="0.55"/>
<text x="353.83" y="182.10" text-anchor="middle" class="tk">75</text>
<line x1="374.31" y1="174.30" x2="374.31" y2="176.40" stroke="#222" stroke-width="0.55"/>
<text x="374.31" y="182.10" text-anchor="middle" class="tk">100</text>
<line x1="394.78" y1="174.30" x2="394.78" y2="176.40" stroke="#222" stroke-width="0.55"/>
<text x="394.78" y="182.10" text-anchor="middle" class="tk">125</text>
<line x1="415.26" y1="174.30" x2="415.26" y2="176.40" stroke="#222" stroke-width="0.55"/>
<text x="415.26" y="182.10" text-anchor="middle" class="tk">150</text>
<line x1="435.73" y1="174.30" x2="435.73" y2="176.40" stroke="#222" stroke-width="0.55"/>
<text x="435.73" y="182.10" text-anchor="middle" class="tk">175</text>
<line x1="289.90" y1="11.21" x2="292.00" y2="11.21" stroke="#222" stroke-width="0.55"/>
<text x="287.60" y="13.21" text-anchor="end" class="tk">0</text>
<line x1="289.90" y1="31.65" x2="292.00" y2="31.65" stroke="#222" stroke-width="0.55"/>
<text x="287.60" y="33.65" text-anchor="end" class="tk">25</text>
<line x1="289.90" y1="52.08" x2="292.00" y2="52.08" stroke="#222" stroke-width="0.55"/>
<text x="287.60" y="54.08" text-anchor="end" class="tk">50</text>
<line x1="289.90" y1="72.52" x2="292.00" y2="72.52" stroke="#222" stroke-width="0.55"/>
<text x="287.60" y="74.52" text-anchor="end" class="tk">75</text>
<line x1="289.90" y1="92.96" x2="292.00" y2="92.96" stroke="#222" stroke-width="0.55"/>
<text x="287.60" y="94.96" text-anchor="end" class="tk">100</text>
<line x1="289.90" y1="113.40" x2="292.00" y2="113.40" stroke="#222" stroke-width="0.55"/>
<text x="287.60" y="115.40" text-anchor="end" class="tk">125</text>
<line x1="289.90" y1="133.83" x2="292.00" y2="133.83" stroke="#222" stroke-width="0.55"/>
<text x="287.60" y="135.83" text-anchor="end" class="tk">150</text>
<line x1="289.90" y1="154.27" x2="292.00" y2="154.27" stroke="#222" stroke-width="0.55"/>
<text x="287.60" y="156.27" text-anchor="end" class="tk">175</text>
<rect x="467.20" y="10.80" width="8.50" height="163.50" fill="url(#jetv)" stroke="#222" stroke-width="0.4"/>
<line x1="475.70" y1="174.30" x2="477.80" y2="174.30" stroke="#222" stroke-width="0.55"/>
<text x="479.20" y="176.30" class="tk">0.0</text>
<line x1="475.70" y1="141.60" x2="477.80" y2="141.60" stroke="#222" stroke-width="0.55"/>
<text x="479.20" y="143.60" class="tk">0.2</text>
<line x1="475.70" y1="108.90" x2="477.80" y2="108.90" stroke="#222" stroke-width="0.55"/>
<text x="479.20" y="110.90" class="tk">0.4</text>
<line x1="475.70" y1="76.20" x2="477.80" y2="76.20" stroke="#222" stroke-width="0.55"/>
<text x="479.20" y="78.20" class="tk">0.6</text>
<line x1="475.70" y1="43.50" x2="477.80" y2="43.50" stroke="#222" stroke-width="0.55"/>
<text x="479.20" y="45.50" class="tk">0.8</text>
<line x1="475.70" y1="10.80" x2="477.80" y2="10.80" stroke="#222" stroke-width="0.55"/>
<text x="479.20" y="12.80" class="tk">1.0</text>
<text x="383" y="197.5" text-anchor="middle" font-size="12" fill="#000" stroke="#000" stroke-width="0.18">(b)</text>
<g clip-path="url(#cd)">
<rect x="80.00" y="216.30" width="163.00" height="163.30" fill="#000080"/>
<g filter="url(#bl03)">
<ellipse cx="87.5" cy="228.0" rx="2.49" ry="6.52" fill="url(#gs)" transform="rotate(-45 87.5 228.0)"/>
<ellipse cx="89.9" cy="226.1" rx="2.49" ry="6.52" fill="url(#gs)" transform="rotate(-45 89.9 226.1)"/>
<ellipse cx="92.0" cy="224.5" rx="2.49" ry="6.52" fill="url(#gs)" transform="rotate(-45 92.0 224.5)"/>
<ellipse cx="117.5" cy="221.4" rx="2.55" ry="7.33" fill="url(#gs)" transform="rotate(-45 117.5 221.4)"/>
<ellipse cx="99.3" cy="239.0" rx="2.46" ry="6.03" fill="url(#gs)" transform="rotate(-45 99.3 239.0)"/>
<ellipse cx="103.0" cy="235.8" rx="2.46" ry="6.03" fill="url(#gs)" transform="rotate(-45 103.0 235.8)"/>
<ellipse cx="106.4" cy="233.2" rx="2.46" ry="6.03" fill="url(#gs)" transform="rotate(-45 106.4 233.2)"/>
<ellipse cx="110.9" cy="229.3" rx="2.46" ry="6.03" fill="url(#gs)" transform="rotate(-45 110.9 229.3)"/>
<ellipse cx="146.4" cy="235.8" rx="2.57" ry="7.66" fill="url(#gs)" transform="rotate(-45 146.4 235.8)"/>
<ellipse cx="156.4" cy="245.8" rx="2.57" ry="7.66" fill="url(#gs)" transform="rotate(-45 156.4 245.8)"/>
<ellipse cx="92.5" cy="285.8" rx="2.53" ry="7.01" fill="url(#gs)" transform="rotate(-45 92.5 285.8)"/>
<ellipse cx="96.7" cy="282.6" rx="2.53" ry="7.01" fill="url(#gs)" transform="rotate(-45 96.7 282.6)"/>
<ellipse cx="101.2" cy="279.2" rx="2.53" ry="7.01" fill="url(#gs)" transform="rotate(-45 101.2 279.2)"/>
<ellipse cx="104.6" cy="275.8" rx="2.53" ry="7.01" fill="url(#gs)" transform="rotate(-45 104.6 275.8)"/>
<ellipse cx="107.7" cy="272.7" rx="2.53" ry="7.01" fill="url(#gs)" transform="rotate(-45 107.7 272.7)"/>
<ellipse cx="110.9" cy="269.5" rx="2.53" ry="7.01" fill="url(#gs)" transform="rotate(-45 110.9 269.5)"/>
<ellipse cx="114.3" cy="266.1" rx="2.53" ry="7.01" fill="url(#gs)" transform="rotate(-45 114.3 266.1)"/>
<ellipse cx="118.3" cy="262.7" rx="2.53" ry="7.01" fill="url(#gs)" transform="rotate(-45 118.3 262.7)"/>
<ellipse cx="121.7" cy="259.0" rx="2.53" ry="7.01" fill="url(#gs)" transform="rotate(-45 121.7 259.0)"/>
<ellipse cx="125.6" cy="255.6" rx="2.53" ry="7.01" fill="url(#gs)" transform="rotate(-45 125.6 255.6)"/>
<ellipse cx="128.8" cy="252.1" rx="2.53" ry="7.01" fill="url(#gs)" transform="rotate(-45 128.8 252.1)"/>
<ellipse cx="134.8" cy="247.7" rx="2.53" ry="7.01" fill="url(#gs)" transform="rotate(-45 134.8 247.7)"/>
<ellipse cx="105.9" cy="299.5" rx="2.53" ry="7.01" fill="url(#gs)" transform="rotate(-45 105.9 299.5)"/>
<ellipse cx="110.4" cy="295.0" rx="2.53" ry="7.01" fill="url(#gs)" transform="rotate(-45 110.4 295.0)"/>
<ellipse cx="113.5" cy="291.8" rx="2.53" ry="7.01" fill="url(#gs)" transform="rotate(-45 113.5 291.8)"/>
<ellipse cx="116.9" cy="288.4" rx="2.53" ry="7.01" fill="url(#gs)" transform="rotate(-45 116.9 288.4)"/>
<ellipse cx="120.4" cy="285.0" rx="2.53" ry="7.01" fill="url(#gs)" transform="rotate(-45 120.4 285.0)"/>
<ellipse cx="123.5" cy="281.9" rx="2.53" ry="7.01" fill="url(#gs)" transform="rotate(-45 123.5 281.9)"/>
<ellipse cx="126.7" cy="278.7" rx="2.53" ry="7.01" fill="url(#gs)" transform="rotate(-45 126.7 278.7)"/>
<ellipse cx="130.3" cy="274.5" rx="2.53" ry="7.01" fill="url(#gs)" transform="rotate(-45 130.3 274.5)"/>
<ellipse cx="138.8" cy="266.9" rx="2.53" ry="7.01" fill="url(#gs)" transform="rotate(-45 138.8 266.9)"/>
<ellipse cx="141.9" cy="262.9" rx="2.53" ry="7.01" fill="url(#gs)" transform="rotate(-45 141.9 262.9)"/>
<ellipse cx="146.6" cy="259.0" rx="2.53" ry="7.01" fill="url(#gs)" transform="rotate(-45 146.6 259.0)"/>
<ellipse cx="148.0" cy="298.4" rx="2.44" ry="5.71" fill="url(#gs)" transform="rotate(-45 148.0 298.4)"/>
<ellipse cx="151.9" cy="295.8" rx="2.44" ry="5.71" fill="url(#gs)" transform="rotate(-45 151.9 295.8)"/>
<ellipse cx="155.1" cy="293.2" rx="2.44" ry="5.71" fill="url(#gs)" transform="rotate(-45 155.1 293.2)"/>
<ellipse cx="162.9" cy="285.3" rx="2.44" ry="5.71" fill="url(#gs)" transform="rotate(-45 162.9 285.3)"/>
<ellipse cx="166.9" cy="281.9" rx="2.44" ry="5.71" fill="url(#gs)" transform="rotate(-45 166.9 281.9)"/>
<ellipse cx="169.5" cy="279.2" rx="2.44" ry="5.71" fill="url(#gs)" transform="rotate(-45 169.5 279.2)"/>
<ellipse cx="172.9" cy="274.0" rx="2.44" ry="5.71" fill="url(#gs)" transform="rotate(-45 172.9 274.0)"/>
<ellipse cx="178.7" cy="269.2" rx="2.44" ry="5.71" fill="url(#gs)" transform="rotate(-45 178.7 269.2)"/>
<ellipse cx="123.5" cy="322.6" rx="2.44" ry="5.71" fill="url(#gs)" transform="rotate(-45 123.5 322.6)"/>
<ellipse cx="127.5" cy="320.0" rx="2.44" ry="5.71" fill="url(#gs)" transform="rotate(-45 127.5 320.0)"/>
<ellipse cx="130.9" cy="316.8" rx="2.44" ry="5.71" fill="url(#gs)" transform="rotate(-45 130.9 316.8)"/>
<ellipse cx="134.0" cy="313.4" rx="2.44" ry="5.71" fill="url(#gs)" transform="rotate(-45 134.0 313.4)"/>
<ellipse cx="137.2" cy="310.0" rx="2.44" ry="5.71" fill="url(#gs)" transform="rotate(-45 137.2 310.0)"/>
<ellipse cx="139.8" cy="306.3" rx="2.44" ry="5.71" fill="url(#gs)" transform="rotate(-45 139.8 306.3)"/>
<ellipse cx="155.1" cy="312.6" rx="2.44" ry="5.71" fill="url(#gs)" transform="rotate(-45 155.1 312.6)"/>
<ellipse cx="162.4" cy="306.8" rx="2.44" ry="5.71" fill="url(#gs)" transform="rotate(-45 162.4 306.8)"/>
<ellipse cx="166.9" cy="303.2" rx="2.44" ry="5.71" fill="url(#gs)" transform="rotate(-45 166.9 303.2)"/>
<ellipse cx="170.8" cy="299.5" rx="2.44" ry="5.71" fill="url(#gs)" transform="rotate(-45 170.8 299.5)"/>
<ellipse cx="180.0" cy="289.0" rx="2.44" ry="5.71" fill="url(#gs)" transform="rotate(-45 180.0 289.0)"/>
<ellipse cx="184.0" cy="284.5" rx="2.44" ry="5.71" fill="url(#gs)" transform="rotate(-45 184.0 284.5)"/>
<ellipse cx="187.9" cy="279.2" rx="2.44" ry="5.71" fill="url(#gs)" transform="rotate(-45 187.9 279.2)"/>
<ellipse cx="137.2" cy="330.5" rx="2.38" ry="4.89" fill="url(#gs)" transform="rotate(-45 137.2 330.5)"/>
<ellipse cx="135.3" cy="335.0" rx="2.38" ry="4.89" fill="url(#gs)" transform="rotate(-45 135.3 335.0)"/>
<ellipse cx="185.3" cy="322.6" rx="2.37" ry="4.73" fill="url(#gs)" transform="rotate(-45 185.3 322.6)"/>
<ellipse cx="189.2" cy="319.2" rx="2.37" ry="4.73" fill="url(#gs)" transform="rotate(-45 189.2 319.2)"/>
<ellipse cx="192.4" cy="316.3" rx="2.37" ry="4.73" fill="url(#gs)" transform="rotate(-45 192.4 316.3)"/>
<ellipse cx="195.8" cy="313.4" rx="2.37" ry="4.73" fill="url(#gs)" transform="rotate(-45 195.8 313.4)"/>
<ellipse cx="199.2" cy="310.0" rx="2.37" ry="4.73" fill="url(#gs)" transform="rotate(-45 199.2 310.0)"/>
<ellipse cx="202.4" cy="306.8" rx="2.37" ry="4.73" fill="url(#gs)" transform="rotate(-45 202.4 306.8)"/>
<ellipse cx="206.3" cy="303.2" rx="2.37" ry="4.73" fill="url(#gs)" transform="rotate(-45 206.3 303.2)"/>
<ellipse cx="209.5" cy="300.3" rx="2.37" ry="4.73" fill="url(#gs)" transform="rotate(-45 209.5 300.3)"/>
<ellipse cx="178.7" cy="329.7" rx="2.37" ry="4.73" fill="url(#gs)" transform="rotate(-45 178.7 329.7)"/>
<ellipse cx="194.0" cy="333.6" rx="2.37" ry="4.73" fill="url(#gs)" transform="rotate(-45 194.0 333.6)"/>
<ellipse cx="197.1" cy="330.5" rx="2.37" ry="4.73" fill="url(#gs)" transform="rotate(-45 197.1 330.5)"/>
<ellipse cx="200.3" cy="327.3" rx="2.37" ry="4.73" fill="url(#gs)" transform="rotate(-45 200.3 327.3)"/>
<ellipse cx="203.7" cy="323.9" rx="2.37" ry="4.73" fill="url(#gs)" transform="rotate(-45 203.7 323.9)"/>
<ellipse cx="207.6" cy="320.0" rx="2.37" ry="4.73" fill="url(#gs)" transform="rotate(-45 207.6 320.0)"/>
<ellipse cx="165.6" cy="343.6" rx="2.39" ry="5.05" fill="url(#gs)" transform="rotate(-45 165.6 343.6)"/>
<ellipse cx="169.5" cy="340.5" rx="2.39" ry="5.05" fill="url(#gs)" transform="rotate(-45 169.5 340.5)"/>
<ellipse cx="172.9" cy="337.9" rx="2.39" ry="5.05" fill="url(#gs)" transform="rotate(-45 172.9 337.9)"/>
<ellipse cx="180.8" cy="348.1" rx="2.39" ry="5.05" fill="url(#gs)" transform="rotate(-45 180.8 348.1)"/>
<ellipse cx="186.6" cy="341.0" rx="2.39" ry="5.05" fill="url(#gs)" transform="rotate(-45 186.6 341.0)"/>
<ellipse cx="174.8" cy="354.2" rx="2.39" ry="5.05" fill="url(#gs)" transform="rotate(-45 174.8 354.2)"/>
<ellipse cx="169.5" cy="360.7" rx="2.39" ry="5.05" fill="url(#gs)" transform="rotate(-45 169.5 360.7)"/>
<ellipse cx="155.1" cy="354.2" rx="2.55" ry="7.33" fill="url(#gs)" transform="rotate(-45 155.1 354.2)"/>
<ellipse cx="159.0" cy="366.0" rx="2.55" ry="7.33" fill="url(#gs)" transform="rotate(-45 159.0 366.0)"/>
<ellipse cx="194.0" cy="360.7" rx="2.37" ry="4.73" fill="url(#gs)" transform="rotate(-45 194.0 360.7)"/>
<ellipse cx="199.2" cy="360.2" rx="2.37" ry="4.73" fill="url(#gs)" transform="rotate(-45 199.2 360.2)"/>
<ellipse cx="187.9" cy="371.2" rx="2.37" ry="4.73" fill="url(#gs)" transform="rotate(-45 187.9 371.2)"/>
<ellipse cx="191.3" cy="369.9" rx="2.37" ry="4.73" fill="url(#gs)" transform="rotate(-45 191.3 369.9)"/>
<ellipse cx="202.4" cy="373.9" rx="2.37" ry="4.73" fill="url(#gs)" transform="rotate(-45 202.4 373.9)"/>
<ellipse cx="205.5" cy="372.6" rx="2.37" ry="4.73" fill="url(#gs)" transform="rotate(-45 205.5 372.6)"/>
<ellipse cx="211.6" cy="366.0" rx="2.37" ry="4.73" fill="url(#gs)" transform="rotate(-45 211.6 366.0)"/>
<ellipse cx="209.0" cy="348.9" rx="2.37" ry="4.73" fill="url(#gs)" transform="rotate(-45 209.0 348.9)"/>
<ellipse cx="215.0" cy="343.6" rx="2.37" ry="4.73" fill="url(#gs)" transform="rotate(-45 215.0 343.6)"/>
<ellipse cx="220.8" cy="336.3" rx="2.37" ry="4.73" fill="url(#gs)" transform="rotate(-45 220.8 336.3)"/>
<ellipse cx="223.9" cy="333.1" rx="2.37" ry="4.73" fill="url(#gs)" transform="rotate(-45 223.9 333.1)"/>
<ellipse cx="218.2" cy="358.1" rx="2.37" ry="4.73" fill="url(#gs)" transform="rotate(-45 218.2 358.1)"/>
<ellipse cx="222.1" cy="354.7" rx="2.37" ry="4.73" fill="url(#gs)" transform="rotate(-45 222.1 354.7)"/>
<ellipse cx="225.5" cy="351.0" rx="2.37" ry="4.73" fill="url(#gs)" transform="rotate(-45 225.5 351.0)"/>
<ellipse cx="229.2" cy="347.8" rx="2.37" ry="4.73" fill="url(#gs)" transform="rotate(-45 229.2 347.8)"/>
<ellipse cx="232.6" cy="345.0" rx="2.37" ry="4.73" fill="url(#gs)" transform="rotate(-45 232.6 345.0)"/>
</g>
</g>
<rect x="80.00" y="216.30" width="163.00" height="163.30" fill="none" stroke="#222" stroke-width="0.5"/>
<polygon points="196.9,298.7 202.2,293.6 212.9,304.8 207.4,309.9" fill="none" stroke="#f4504c" stroke-width="1.5" stroke-linejoin="miter"/>
<line x1="205.0" y1="301.5" x2="209.1" y2="296.1" stroke="#f4504c" stroke-width="1.3"/>
<polygon points="211.7,292.6 211.0,297.6 207.1,294.7" fill="#f4504c"/>
<text x="199.5" y="289.3" class="sf" font-size="14.0" fill="#f4504c">Ship</text>
<text x="163.7" y="228.1" class="ti" font-size="9.8" textLength="71.6" lengthAdjust="spacingAndGlyphs">OLA Small-Scale</text>
<line x1="80.81" y1="379.60" x2="80.81" y2="381.70" stroke="#222" stroke-width="0.55"/>
<text x="80.81" y="387.40" text-anchor="middle" class="tk">0</text>
<line x1="113.41" y1="379.60" x2="113.41" y2="381.70" stroke="#222" stroke-width="0.55"/>
<text x="113.41" y="387.40" text-anchor="middle" class="tk">20</text>
<line x1="146.01" y1="379.60" x2="146.01" y2="381.70" stroke="#222" stroke-width="0.55"/>
<text x="146.01" y="387.40" text-anchor="middle" class="tk">40</text>
<line x1="178.62" y1="379.60" x2="178.62" y2="381.70" stroke="#222" stroke-width="0.55"/>
<text x="178.62" y="387.40" text-anchor="middle" class="tk">60</text>
<line x1="211.22" y1="379.60" x2="211.22" y2="381.70" stroke="#222" stroke-width="0.55"/>
<text x="211.22" y="387.40" text-anchor="middle" class="tk">80</text>
<line x1="77.90" y1="217.12" x2="80.00" y2="217.12" stroke="#222" stroke-width="0.55"/>
<text x="75.60" y="219.12" text-anchor="end" class="tk">0</text>
<line x1="77.90" y1="249.78" x2="80.00" y2="249.78" stroke="#222" stroke-width="0.55"/>
<text x="75.60" y="251.78" text-anchor="end" class="tk">20</text>
<line x1="77.90" y1="282.44" x2="80.00" y2="282.44" stroke="#222" stroke-width="0.55"/>
<text x="75.60" y="284.44" text-anchor="end" class="tk">40</text>
<line x1="77.90" y1="315.10" x2="80.00" y2="315.10" stroke="#222" stroke-width="0.55"/>
<text x="75.60" y="317.10" text-anchor="end" class="tk">60</text>
<line x1="77.90" y1="347.76" x2="80.00" y2="347.76" stroke="#222" stroke-width="0.55"/>
<text x="75.60" y="349.76" text-anchor="end" class="tk">80</text>
<rect x="255.00" y="216.30" width="8.00" height="163.30" fill="url(#jetv)" stroke="#222" stroke-width="0.4"/>
<line x1="263.00" y1="379.60" x2="265.10" y2="379.60" stroke="#222" stroke-width="0.55"/>
<text x="266.50" y="381.60" class="tk">0.0</text>
<line x1="263.00" y1="346.94" x2="265.10" y2="346.94" stroke="#222" stroke-width="0.55"/>
<text x="266.50" y="348.94" class="tk">0.2</text>
<line x1="263.00" y1="314.28" x2="265.10" y2="314.28" stroke="#222" stroke-width="0.55"/>
<text x="266.50" y="316.28" class="tk">0.4</text>
<line x1="263.00" y1="281.62" x2="265.10" y2="281.62" stroke="#222" stroke-width="0.55"/>
<text x="266.50" y="283.62" class="tk">0.6</text>
<line x1="263.00" y1="248.96" x2="265.10" y2="248.96" stroke="#222" stroke-width="0.55"/>
<text x="266.50" y="250.96" class="tk">0.8</text>
<line x1="263.00" y1="216.30" x2="265.10" y2="216.30" stroke="#222" stroke-width="0.55"/>
<text x="266.50" y="218.30" class="tk">1.0</text>
<text x="160.3" y="408.6" text-anchor="middle" font-size="12" fill="#000" stroke="#000" stroke-width="0.18">(d)</text>
<g clip-path="url(#ce)">
<rect x="294.00" y="216.30" width="162.70" height="163.30" fill="#000080"/>
<g filter="url(#bl03)">
<rect x="349.32" y="232.57" width="3.25" height="3.25" fill="#29ffce"/>
<rect x="352.57" y="235.82" width="3.25" height="3.25" fill="#800000"/>
<rect x="355.83" y="239.08" width="3.25" height="3.25" fill="#29ffce"/>
<rect x="346.06" y="239.08" width="3.25" height="3.25" fill="#29ffce"/>
<rect x="349.32" y="242.33" width="3.25" height="3.25" fill="#800000"/>
<rect x="352.57" y="245.59" width="3.25" height="3.25" fill="#29ffce"/>
<rect x="362.33" y="245.59" width="3.25" height="3.25" fill="#29ffce"/>
<rect x="365.59" y="248.84" width="3.25" height="3.25" fill="#800000"/>
<rect x="368.84" y="252.09" width="3.25" height="3.25" fill="#29ffce"/>
<rect x="359.08" y="248.84" width="3.25" height="3.25" fill="#29ffce"/>
<rect x="362.33" y="252.09" width="3.25" height="3.25" fill="#800000"/>
<rect x="365.59" y="255.35" width="3.25" height="3.25" fill="#29ffce"/>
<rect x="346.06" y="265.11" width="3.25" height="3.25" fill="#29ffce"/>
<rect x="349.32" y="268.36" width="3.25" height="3.25" fill="#800000"/>
<rect x="352.57" y="271.62" width="3.25" height="3.25" fill="#29ffce"/>
<rect x="297.25" y="284.63" width="3.25" height="3.25" fill="#29ffce"/>
<rect x="300.51" y="287.89" width="3.25" height="3.25" fill="#800000"/>
<rect x="303.76" y="291.14" width="3.25" height="3.25" fill="#29ffce"/>
<rect x="313.52" y="297.65" width="3.25" height="3.25" fill="#29ffce"/>
<rect x="316.78" y="300.90" width="3.25" height="3.25" fill="#800000"/>
<rect x="320.03" y="304.16" width="3.25" height="3.25" fill="#29ffce"/>
<rect x="365.59" y="245.59" width="3.25" height="3.25" fill="#0005ff"/>
<rect x="368.84" y="248.84" width="3.25" height="3.25" fill="#0005ff"/>
<rect x="362.33" y="248.84" width="3.25" height="3.25" fill="#0005ff"/>
<rect x="359.08" y="252.09" width="3.25" height="3.25" fill="#0005ff"/>
<rect x="365.59" y="252.09" width="3.25" height="3.25" fill="#0005ff"/>
<rect x="362.33" y="255.35" width="3.25" height="3.25" fill="#0005ff"/>
<rect x="352.57" y="239.08" width="3.25" height="3.25" fill="#0005ff"/>
<rect x="349.32" y="239.08" width="3.25" height="3.25" fill="#0005ff"/>
<rect x="355.83" y="235.82" width="3.25" height="3.25" fill="#0005ff"/>
<rect x="320.03" y="300.90" width="3.25" height="3.25" fill="#0005ff"/>
<rect x="316.78" y="304.16" width="3.25" height="3.25" fill="#0005ff"/>
</g></g>
<rect x="294.00" y="216.30" width="162.70" height="163.30" fill="none" stroke="#222" stroke-width="0.5"/>
<polygon points="339.8,241.5 346.7,234.4 360.1,247.5 353.1,254.6" fill="none" stroke="#f4504c" stroke-width="1.5" stroke-linejoin="miter"/>
<line x1="344.5" y1="247.6" x2="339.0" y2="247.7" stroke="#f4504c" stroke-width="1.3"/>
<polygon points="335.6,247.8 339.0,245.9 339.0,249.6" fill="#f4504c"/>
<text x="305.9" y="251.0" class="sf" font-size="14.0" fill="#f4504c">Ship</text>
<text x="363.0" y="228.3" class="ti" font-size="9.8" textLength="85.2" lengthAdjust="spacingAndGlyphs">OLA Medium-Scale</text>
<line x1="295.63" y1="379.60" x2="295.63" y2="381.70" stroke="#222" stroke-width="0.55"/>
<text x="295.63" y="387.40" text-anchor="middle" class="tk">0</text>
<line x1="328.17" y1="379.60" x2="328.17" y2="381.70" stroke="#222" stroke-width="0.55"/>
<text x="328.17" y="387.40" text-anchor="middle" class="tk">10</text>
<line x1="360.71" y1="379.60" x2="360.71" y2="381.70" stroke="#222" stroke-width="0.55"/>
<text x="360.71" y="387.40" text-anchor="middle" class="tk">20</text>
<line x1="393.25" y1="379.60" x2="393.25" y2="381.70" stroke="#222" stroke-width="0.55"/>
<text x="393.25" y="387.40" text-anchor="middle" class="tk">30</text>
<line x1="425.79" y1="379.60" x2="425.79" y2="381.70" stroke="#222" stroke-width="0.55"/>
<text x="425.79" y="387.40" text-anchor="middle" class="tk">40</text>
<line x1="291.90" y1="217.93" x2="294.00" y2="217.93" stroke="#222" stroke-width="0.55"/>
<text x="289.60" y="219.93" text-anchor="end" class="tk">0</text>
<line x1="291.90" y1="250.59" x2="294.00" y2="250.59" stroke="#222" stroke-width="0.55"/>
<text x="289.60" y="252.59" text-anchor="end" class="tk">10</text>
<line x1="291.90" y1="283.25" x2="294.00" y2="283.25" stroke="#222" stroke-width="0.55"/>
<text x="289.60" y="285.25" text-anchor="end" class="tk">20</text>
<line x1="291.90" y1="315.91" x2="294.00" y2="315.91" stroke="#222" stroke-width="0.55"/>
<text x="289.60" y="317.91" text-anchor="end" class="tk">30</text>
<line x1="291.90" y1="348.57" x2="294.00" y2="348.57" stroke="#222" stroke-width="0.55"/>
<text x="289.60" y="350.57" text-anchor="end" class="tk">40</text>
<rect x="468.30" y="216.30" width="8.70" height="163.30" fill="url(#jetv)" stroke="#222" stroke-width="0.4"/>
<line x1="477.00" y1="379.60" x2="479.10" y2="379.60" stroke="#222" stroke-width="0.55"/>
<text x="480.50" y="381.60" class="tk">0.0</text>
<line x1="477.00" y1="346.94" x2="479.10" y2="346.94" stroke="#222" stroke-width="0.55"/>
<text x="480.50" y="348.94" class="tk">0.2</text>
<line x1="477.00" y1="314.28" x2="479.10" y2="314.28" stroke="#222" stroke-width="0.55"/>
<text x="480.50" y="316.28" class="tk">0.4</text>
<line x1="477.00" y1="281.62" x2="479.10" y2="281.62" stroke="#222" stroke-width="0.55"/>
<text x="480.50" y="283.62" class="tk">0.6</text>
<line x1="477.00" y1="248.96" x2="479.10" y2="248.96" stroke="#222" stroke-width="0.55"/>
<text x="480.50" y="250.96" class="tk">0.8</text>
<line x1="477.00" y1="216.30" x2="479.10" y2="216.30" stroke="#222" stroke-width="0.55"/>
<text x="480.50" y="218.30" class="tk">1.0</text>
<text x="382.7" y="408.6" text-anchor="middle" font-size="12" fill="#000" stroke="#000" stroke-width="0.18">(e)</text>
<g clip-path="url(#cf)">
<rect x="512.00" y="216.30" width="163.20" height="163.30" fill="#000080"/>
<g filter="url(#bl03)">
<rect x="570.70" y="235.83" width="6.63" height="6.63" fill="#0000d6"/>
<rect x="577.23" y="235.83" width="6.63" height="6.63" fill="#0000e9"/>
<rect x="583.76" y="235.83" width="6.63" height="6.63" fill="#0000ce"/>
<rect x="557.65" y="242.36" width="6.63" height="6.63" fill="#0000d2"/>
<rect x="564.17" y="242.36" width="6.63" height="6.63" fill="#0022ff"/>
<rect x="570.70" y="242.36" width="6.63" height="6.63" fill="#005cff"/>
<rect x="577.23" y="242.36" width="6.63" height="6.63" fill="#0037ff"/>
<rect x="583.76" y="242.36" width="6.63" height="6.63" fill="#0000e9"/>
<rect x="551.12" y="248.89" width="6.63" height="6.63" fill="#0000ff"/>
<rect x="557.65" y="248.89" width="6.63" height="6.63" fill="#0096ff"/>
<rect x="564.17" y="248.89" width="6.63" height="6.63" fill="#32ffc5"/>
<rect x="570.70" y="248.89" width="6.63" height="6.63" fill="#19ffde"/>
<rect x="577.23" y="248.89" width="6.63" height="6.63" fill="#005cff"/>
<rect x="583.76" y="248.89" width="6.63" height="6.63" fill="#0000d6"/>
<rect x="544.59" y="255.42" width="6.63" height="6.63" fill="#000cff"/>
<rect x="551.12" y="255.42" width="6.63" height="6.63" fill="#15ffe2"/>
<rect x="557.65" y="255.42" width="6.63" height="6.63" fill="#e7ff10"/>
<rect x="564.17" y="255.42" width="6.63" height="6.63" fill="#f7f500"/>
<rect x="570.70" y="255.42" width="6.63" height="6.63" fill="#32ffc5"/>
<rect x="577.23" y="255.42" width="6.63" height="6.63" fill="#0022ff"/>
<rect x="538.06" y="261.95" width="6.63" height="6.63" fill="#000cff"/>
<rect x="544.59" y="261.95" width="6.63" height="6.63" fill="#38ffbf"/>
<rect x="551.12" y="261.95" width="6.63" height="6.63" fill="#ff7800"/>
<rect x="557.65" y="261.95" width="6.63" height="6.63" fill="#f60b00"/>
<rect x="564.17" y="261.95" width="6.63" height="6.63" fill="#e7ff10"/>
<rect x="570.70" y="261.95" width="6.63" height="6.63" fill="#0096ff"/>
<rect x="577.23" y="261.95" width="6.63" height="6.63" fill="#0000d2"/>
<rect x="603.34" y="261.95" width="6.63" height="6.63" fill="#0000d6"/>
<rect x="609.87" y="261.95" width="6.63" height="6.63" fill="#0000e9"/>
<rect x="616.40" y="261.95" width="6.63" height="6.63" fill="#0000ce"/>
<rect x="531.53" y="268.47" width="6.63" height="6.63" fill="#0000ff"/>
<rect x="538.06" y="268.47" width="6.63" height="6.63" fill="#15ffe2"/>
<rect x="544.59" y="268.47" width="6.63" height="6.63" fill="#ff7800"/>
<rect x="551.12" y="268.47" width="6.63" height="6.63" fill="#800000"/>
<rect x="557.65" y="268.47" width="6.63" height="6.63" fill="#ff7800"/>
<rect x="564.17" y="268.47" width="6.63" height="6.63" fill="#15ffe2"/>
<rect x="570.70" y="268.47" width="6.63" height="6.63" fill="#0000ff"/>
<rect x="590.29" y="268.47" width="6.63" height="6.63" fill="#0000d2"/>
<rect x="596.81" y="268.47" width="6.63" height="6.63" fill="#0022ff"/>
<rect x="603.34" y="268.47" width="6.63" height="6.63" fill="#005cff"/>
<rect x="609.87" y="268.47" width="6.63" height="6.63" fill="#0037ff"/>
<rect x="616.40" y="268.47" width="6.63" height="6.63" fill="#0000e9"/>
<rect x="525.01" y="275.00" width="6.63" height="6.63" fill="#0000d2"/>
<rect x="531.53" y="275.00" width="6.63" height="6.63" fill="#0096ff"/>
<rect x="538.06" y="275.00" width="6.63" height="6.63" fill="#e7ff10"/>
<rect x="544.59" y="275.00" width="6.63" height="6.63" fill="#f60b00"/>
<rect x="551.12" y="275.00" width="6.63" height="6.63" fill="#ff7800"/>
<rect x="557.65" y="275.00" width="6.63" height="6.63" fill="#38ffbf"/>
<rect x="564.17" y="275.00" width="6.63" height="6.63" fill="#000cff"/>
<rect x="583.76" y="275.00" width="6.63" height="6.63" fill="#0000ff"/>
<rect x="590.29" y="275.00" width="6.63" height="6.63" fill="#0096ff"/>
<rect x="596.81" y="275.00" width="6.63" height="6.63" fill="#32ffc5"/>
<rect x="603.34" y="275.00" width="6.63" height="6.63" fill="#19ffde"/>
<rect x="609.87" y="275.00" width="6.63" height="6.63" fill="#005cff"/>
<rect x="616.40" y="275.00" width="6.63" height="6.63" fill="#0000d6"/>
<rect x="525.01" y="281.53" width="6.63" height="6.63" fill="#0022ff"/>
<rect x="531.53" y="281.53" width="6.63" height="6.63" fill="#32ffc5"/>
<rect x="538.06" y="281.53" width="6.63" height="6.63" fill="#f7f500"/>
<rect x="544.59" y="281.53" width="6.63" height="6.63" fill="#e7ff10"/>
<rect x="551.12" y="281.53" width="6.63" height="6.63" fill="#15ffe2"/>
<rect x="557.65" y="281.53" width="6.63" height="6.63" fill="#000cff"/>
<rect x="577.23" y="281.53" width="6.63" height="6.63" fill="#000cff"/>
<rect x="583.76" y="281.53" width="6.63" height="6.63" fill="#15ffe2"/>
<rect x="590.29" y="281.53" width="6.63" height="6.63" fill="#e7ff10"/>
<rect x="596.81" y="281.53" width="6.63" height="6.63" fill="#f7f500"/>
<rect x="603.34" y="281.53" width="6.63" height="6.63" fill="#32ffc5"/>
<rect x="609.87" y="281.53" width="6.63" height="6.63" fill="#0022ff"/>
<rect x="518.48" y="288.06" width="6.63" height="6.63" fill="#0000d6"/>
<rect x="525.01" y="288.06" width="6.63" height="6.63" fill="#005cff"/>
<rect x="531.53" y="288.06" width="6.63" height="6.63" fill="#19ffde"/>
<rect x="538.06" y="288.06" width="6.63" height="6.63" fill="#32ffc5"/>
<rect x="544.59" y="288.06" width="6.63" height="6.63" fill="#0096ff"/>
<rect x="551.12" y="288.06" width="6.63" height="6.63" fill="#0000ff"/>
<rect x="570.70" y="288.06" width="6.63" height="6.63" fill="#000cff"/>
<rect x="577.23" y="288.06" width="6.63" height="6.63" fill="#38ffbf"/>
<rect x="583.76" y="288.06" width="6.63" height="6.63" fill="#ff7800"/>
<rect x="590.29" y="288.06" width="6.63" height="6.63" fill="#f60b00"/>
<rect x="596.81" y="288.06" width="6.63" height="6.63" fill="#e7ff10"/>
<rect x="603.34" y="288.06" width="6.63" height="6.63" fill="#0096ff"/>
<rect x="609.87" y="288.06" width="6.63" height="6.63" fill="#0000d2"/>
<rect x="518.48" y="294.59" width="6.63" height="6.63" fill="#0000e9"/>
<rect x="525.01" y="294.59" width="6.63" height="6.63" fill="#0037ff"/>
<rect x="531.53" y="294.59" width="6.63" height="6.63" fill="#005cff"/>
<rect x="538.06" y="294.59" width="6.63" height="6.63" fill="#0022ff"/>
<rect x="544.59" y="294.59" width="6.63" height="6.63" fill="#0000d2"/>
<rect x="564.17" y="294.59" width="6.63" height="6.63" fill="#0000ff"/>
<rect x="570.70" y="294.59" width="6.63" height="6.63" fill="#15ffe2"/>
<rect x="577.23" y="294.59" width="6.63" height="6.63" fill="#ff7800"/>
<rect x="583.76" y="294.59" width="6.63" height="6.63" fill="#800000"/>
<rect x="590.29" y="294.59" width="6.63" height="6.63" fill="#ff7800"/>
<rect x="596.81" y="294.59" width="6.63" height="6.63" fill="#15ffe2"/>
<rect x="603.34" y="294.59" width="6.63" height="6.63" fill="#0000ff"/>
<rect x="635.98" y="294.59" width="6.63" height="6.63" fill="#0000c8"/>
<rect x="642.51" y="294.59" width="6.63" height="6.63" fill="#0000d3"/>
<rect x="518.48" y="301.11" width="6.63" height="6.63" fill="#0000ce"/>
<rect x="525.01" y="301.11" width="6.63" height="6.63" fill="#0000e9"/>
<rect x="531.53" y="301.11" width="6.63" height="6.63" fill="#0000d6"/>
<rect x="557.65" y="301.11" width="6.63" height="6.63" fill="#0000d2"/>
<rect x="564.17" y="301.11" width="6.63" height="6.63" fill="#0096ff"/>
<rect x="570.70" y="301.11" width="6.63" height="6.63" fill="#e7ff10"/>
<rect x="577.23" y="301.11" width="6.63" height="6.63" fill="#f60b00"/>
<rect x="583.76" y="301.11" width="6.63" height="6.63" fill="#ff7800"/>
<rect x="590.29" y="301.11" width="6.63" height="6.63" fill="#38ffbf"/>
<rect x="596.81" y="301.11" width="6.63" height="6.63" fill="#000cff"/>
<rect x="622.93" y="301.11" width="6.63" height="6.63" fill="#0000cd"/>
<rect x="629.45" y="301.11" width="6.63" height="6.63" fill="#0013ff"/>
<rect x="635.98" y="301.11" width="6.63" height="6.63" fill="#0040ff"/>
<rect x="642.51" y="301.11" width="6.63" height="6.63" fill="#0019ff"/>
<rect x="649.04" y="301.11" width="6.63" height="6.63" fill="#0000d3"/>
<rect x="557.65" y="307.64" width="6.63" height="6.63" fill="#0022ff"/>
<rect x="564.17" y="307.64" width="6.63" height="6.63" fill="#32ffc5"/>
<rect x="570.70" y="307.64" width="6.63" height="6.63" fill="#f7f500"/>
<rect x="577.23" y="307.64" width="6.63" height="6.63" fill="#e7ff10"/>
<rect x="583.76" y="307.64" width="6.63" height="6.63" fill="#15ffe2"/>
<rect x="590.29" y="307.64" width="6.63" height="6.63" fill="#000cff"/>
<rect x="616.40" y="307.64" width="6.63" height="6.63" fill="#0000fc"/>
<rect x="622.93" y="307.64" width="6.63" height="6.63" fill="#0089ff"/>
<rect x="629.45" y="307.64" width="6.63" height="6.63" fill="#1bffdc"/>
<rect x="635.98" y="307.64" width="6.63" height="6.63" fill="#00defd"/>
<rect x="642.51" y="307.64" width="6.63" height="6.63" fill="#0040ff"/>
<rect x="649.04" y="307.64" width="6.63" height="6.63" fill="#0000c8"/>
<rect x="551.12" y="314.17" width="6.63" height="6.63" fill="#0000d6"/>
<rect x="557.65" y="314.17" width="6.63" height="6.63" fill="#005cff"/>
<rect x="564.17" y="314.17" width="6.63" height="6.63" fill="#19ffde"/>
<rect x="570.70" y="314.17" width="6.63" height="6.63" fill="#32ffc5"/>
<rect x="577.23" y="314.17" width="6.63" height="6.63" fill="#0096ff"/>
<rect x="583.76" y="314.17" width="6.63" height="6.63" fill="#0000ff"/>
<rect x="609.87" y="314.17" width="6.63" height="6.63" fill="#000bff"/>
<rect x="616.40" y="314.17" width="6.63" height="6.63" fill="#11fbe6"/>
<rect x="622.93" y="314.17" width="6.63" height="6.63" fill="#daff1d"/>
<rect x="629.45" y="314.17" width="6.63" height="6.63" fill="#dfff17"/>
<rect x="635.98" y="314.17" width="6.63" height="6.63" fill="#1bffdc"/>
<rect x="642.51" y="314.17" width="6.63" height="6.63" fill="#0013ff"/>
<rect x="551.12" y="320.70" width="6.63" height="6.63" fill="#0000e9"/>
<rect x="557.65" y="320.70" width="6.63" height="6.63" fill="#0037ff"/>
<rect x="564.17" y="320.70" width="6.63" height="6.63" fill="#005cff"/>
<rect x="570.70" y="320.70" width="6.63" height="6.63" fill="#0022ff"/>
<rect x="577.23" y="320.70" width="6.63" height="6.63" fill="#0000d2"/>
<rect x="603.34" y="320.70" width="6.63" height="6.63" fill="#000bff"/>
<rect x="609.87" y="320.70" width="6.63" height="6.63" fill="#38ffbf"/>
<rect x="616.40" y="320.70" width="6.63" height="6.63" fill="#ff7b00"/>
<rect x="622.93" y="320.70" width="6.63" height="6.63" fill="#ff1500"/>
<rect x="629.45" y="320.70" width="6.63" height="6.63" fill="#daff1d"/>
<rect x="635.98" y="320.70" width="6.63" height="6.63" fill="#0089ff"/>
<rect x="642.51" y="320.70" width="6.63" height="6.63" fill="#0000cd"/>
<rect x="551.12" y="327.23" width="6.63" height="6.63" fill="#0000ce"/>
<rect x="557.65" y="327.23" width="6.63" height="6.63" fill="#0000e9"/>
<rect x="564.17" y="327.23" width="6.63" height="6.63" fill="#0000d6"/>
<rect x="596.81" y="327.23" width="6.63" height="6.63" fill="#0000fc"/>
<rect x="603.34" y="327.23" width="6.63" height="6.63" fill="#11fbe6"/>
<rect x="609.87" y="327.23" width="6.63" height="6.63" fill="#ff7b00"/>
<rect x="616.40" y="327.23" width="6.63" height="6.63" fill="#800000"/>
<rect x="622.93" y="327.23" width="6.63" height="6.63" fill="#ff7b00"/>
<rect x="629.45" y="327.23" width="6.63" height="6.63" fill="#11fbe6"/>
<rect x="635.98" y="327.23" width="6.63" height="6.63" fill="#0000fc"/>
<rect x="655.57" y="327.23" width="6.63" height="6.63" fill="#0000cc"/>
<rect x="590.29" y="333.75" width="6.63" height="6.63" fill="#0000cd"/>
<rect x="596.81" y="333.75" width="6.63" height="6.63" fill="#0089ff"/>
<rect x="603.34" y="333.75" width="6.63" height="6.63" fill="#daff1d"/>
<rect x="609.87" y="333.75" width="6.63" height="6.63" fill="#ff1500"/>
<rect x="616.40" y="333.75" width="6.63" height="6.63" fill="#ff7b00"/>
<rect x="622.93" y="333.75" width="6.63" height="6.63" fill="#38ffbf"/>
<rect x="629.45" y="333.75" width="6.63" height="6.63" fill="#000bff"/>
<rect x="642.51" y="333.75" width="6.63" height="6.63" fill="#000fff"/>
<rect x="649.04" y="333.75" width="6.63" height="6.63" fill="#005dff"/>
<rect x="655.57" y="333.75" width="6.63" height="6.63" fill="#002dff"/>
<rect x="662.09" y="333.75" width="6.63" height="6.63" fill="#0000cc"/>
<rect x="590.29" y="340.28" width="6.63" height="6.63" fill="#0013ff"/>
<rect x="596.81" y="340.28" width="6.63" height="6.63" fill="#1bffdc"/>
<rect x="603.34" y="340.28" width="6.63" height="6.63" fill="#dfff17"/>
<rect x="609.87" y="340.28" width="6.63" height="6.63" fill="#daff1d"/>
<rect x="616.40" y="340.28" width="6.63" height="6.63" fill="#11fbe6"/>
<rect x="622.93" y="340.28" width="6.63" height="6.63" fill="#000bff"/>
<rect x="629.45" y="340.28" width="6.63" height="6.63" fill="#0000cd"/>
<rect x="635.98" y="340.28" width="6.63" height="6.63" fill="#0081ff"/>
<rect x="642.51" y="340.28" width="6.63" height="6.63" fill="#69ff8e"/>
<rect x="649.04" y="340.28" width="6.63" height="6.63" fill="#55ffa1"/>
<rect x="655.57" y="340.28" width="6.63" height="6.63" fill="#005dff"/>
<rect x="583.76" y="346.81" width="6.63" height="6.63" fill="#0000c8"/>
<rect x="590.29" y="346.81" width="6.63" height="6.63" fill="#0040ff"/>
<rect x="596.81" y="346.81" width="6.63" height="6.63" fill="#00defd"/>
<rect x="603.34" y="346.81" width="6.63" height="6.63" fill="#1bffdc"/>
<rect x="609.87" y="346.81" width="6.63" height="6.63" fill="#0089ff"/>
<rect x="616.40" y="346.81" width="6.63" height="6.63" fill="#0000fc"/>
<rect x="622.93" y="346.81" width="6.63" height="6.63" fill="#0000cd"/>
<rect x="629.45" y="346.81" width="6.63" height="6.63" fill="#00b9ff"/>
<rect x="635.98" y="346.81" width="6.63" height="6.63" fill="#ffbe00"/>
<rect x="642.51" y="346.81" width="6.63" height="6.63" fill="#ff5400"/>
<rect x="649.04" y="346.81" width="6.63" height="6.63" fill="#69ff8e"/>
<rect x="655.57" y="346.81" width="6.63" height="6.63" fill="#000fff"/>
<rect x="583.76" y="353.34" width="6.63" height="6.63" fill="#0000d3"/>
<rect x="590.29" y="353.34" width="6.63" height="6.63" fill="#0019ff"/>
<rect x="596.81" y="353.34" width="6.63" height="6.63" fill="#0040ff"/>
<rect x="603.34" y="353.34" width="6.63" height="6.63" fill="#0013ff"/>
<rect x="609.87" y="353.34" width="6.63" height="6.63" fill="#0000cd"/>
<rect x="622.93" y="353.34" width="6.63" height="6.63" fill="#0081ff"/>
<rect x="629.45" y="353.34" width="6.63" height="6.63" fill="#ffbe00"/>
<rect x="635.98" y="353.34" width="6.63" height="6.63" fill="#800000"/>
<rect x="642.51" y="353.34" width="6.63" height="6.63" fill="#ffbe00"/>
<rect x="649.04" y="353.34" width="6.63" height="6.63" fill="#0081ff"/>
<rect x="590.29" y="359.87" width="6.63" height="6.63" fill="#0000d3"/>
<rect x="596.81" y="359.87" width="6.63" height="6.63" fill="#0000c8"/>
<rect x="616.40" y="359.87" width="6.63" height="6.63" fill="#000fff"/>
<rect x="622.93" y="359.87" width="6.63" height="6.63" fill="#69ff8e"/>
<rect x="629.45" y="359.87" width="6.63" height="6.63" fill="#ff5400"/>
<rect x="635.98" y="359.87" width="6.63" height="6.63" fill="#ffbe00"/>
<rect x="642.51" y="359.87" width="6.63" height="6.63" fill="#00b9ff"/>
<rect x="649.04" y="359.87" width="6.63" height="6.63" fill="#0000cd"/>
<rect x="616.40" y="366.39" width="6.63" height="6.63" fill="#005dff"/>
<rect x="622.93" y="366.39" width="6.63" height="6.63" fill="#55ffa1"/>
<rect x="629.45" y="366.39" width="6.63" height="6.63" fill="#69ff8e"/>
<rect x="635.98" y="366.39" width="6.63" height="6.63" fill="#0081ff"/>
<rect x="642.51" y="366.39" width="6.63" height="6.63" fill="#0000cd"/>
<rect x="609.87" y="372.92" width="6.63" height="6.63" fill="#0000cc"/>
<rect x="616.40" y="372.92" width="6.63" height="6.63" fill="#002dff"/>
<rect x="622.93" y="372.92" width="6.63" height="6.63" fill="#005dff"/>
<rect x="629.45" y="372.92" width="6.63" height="6.63" fill="#000fff"/>
</g></g>
<rect x="512.00" y="216.30" width="163.20" height="163.30" fill="none" stroke="#222" stroke-width="0.5"/>
<polygon points="609.5,250.2 634.0,274.6 562.2,346.0 538.1,321.2" fill="none" stroke="#4a6cf2" stroke-width="1.1" stroke-linejoin="miter"/>
<line x1="587.3" y1="295.7" x2="626.4" y2="256.6" stroke="#4a6cf2" stroke-width="1.1"/>
<polygon points="628.8,254.2 627.7,257.9 625.1,255.3" fill="#4a6cf2"/>
<text x="614" y="249.4" class="sf" font-size="10.7" fill="#4a6cf2">Harbor</text>
<text x="597.7" y="228.1" class="ti" font-size="9.8" textLength="71.0" lengthAdjust="spacingAndGlyphs">OLA Large-Scale</text>
<line x1="515.26" y1="379.60" x2="515.26" y2="381.70" stroke="#222" stroke-width="0.55"/>
<text x="515.26" y="387.40" text-anchor="middle" class="tk">0</text>
<line x1="547.90" y1="379.60" x2="547.90" y2="381.70" stroke="#222" stroke-width="0.55"/>
<text x="547.90" y="387.40" text-anchor="middle" class="tk">5</text>
<line x1="580.54" y1="379.60" x2="580.54" y2="381.70" stroke="#222" stroke-width="0.55"/>
<text x="580.54" y="387.40" text-anchor="middle" class="tk">10</text>
<line x1="613.18" y1="379.60" x2="613.18" y2="381.70" stroke="#222" stroke-width="0.55"/>
<text x="613.18" y="387.40" text-anchor="middle" class="tk">15</text>
<line x1="645.82" y1="379.60" x2="645.82" y2="381.70" stroke="#222" stroke-width="0.55"/>
<text x="645.82" y="387.40" text-anchor="middle" class="tk">20</text>
<line x1="509.90" y1="219.57" x2="512.00" y2="219.57" stroke="#222" stroke-width="0.55"/>
<text x="507.60" y="221.57" text-anchor="end" class="tk">0</text>
<line x1="509.90" y1="252.23" x2="512.00" y2="252.23" stroke="#222" stroke-width="0.55"/>
<text x="507.60" y="254.23" text-anchor="end" class="tk">5</text>
<line x1="509.90" y1="284.89" x2="512.00" y2="284.89" stroke="#222" stroke-width="0.55"/>
<text x="507.60" y="286.89" text-anchor="end" class="tk">10</text>
<line x1="509.90" y1="317.55" x2="512.00" y2="317.55" stroke="#222" stroke-width="0.55"/>
<text x="507.60" y="319.55" text-anchor="end" class="tk">15</text>
<line x1="509.90" y1="350.21" x2="512.00" y2="350.21" stroke="#222" stroke-width="0.55"/>
<text x="507.60" y="352.21" text-anchor="end" class="tk">20</text>
<rect x="687.30" y="216.30" width="8.20" height="163.30" fill="url(#jetv)" stroke="#222" stroke-width="0.4"/>
<line x1="695.50" y1="379.60" x2="697.60" y2="379.60" stroke="#222" stroke-width="0.55"/>
<text x="699.00" y="381.60" class="tk">0.0</text>
<line x1="695.50" y1="346.94" x2="697.60" y2="346.94" stroke="#222" stroke-width="0.55"/>
<text x="699.00" y="348.94" class="tk">0.2</text>
<line x1="695.50" y1="314.28" x2="697.60" y2="314.28" stroke="#222" stroke-width="0.55"/>
<text x="699.00" y="316.28" class="tk">0.4</text>
<line x1="695.50" y1="281.62" x2="697.60" y2="281.62" stroke="#222" stroke-width="0.55"/>
<text x="699.00" y="283.62" class="tk">0.6</text>
<line x1="695.50" y1="248.96" x2="697.60" y2="248.96" stroke="#222" stroke-width="0.55"/>
<text x="699.00" y="250.96" class="tk">0.8</text>
<line x1="695.50" y1="216.30" x2="697.60" y2="216.30" stroke="#222" stroke-width="0.55"/>
<text x="699.00" y="218.30" class="tk">1.0</text>
<text x="595.2" y="408.6" text-anchor="middle" font-size="12" fill="#000" stroke="#000" stroke-width="0.18">(f)</text>
<defs>
<radialGradient id="gz" cx="0.5" cy="0.5" r="0.5">
<stop offset="0" stop-color="#030830"/>
<stop offset="0.07" stop-color="#092094"/>
<stop offset="0.17" stop-color="#113ad6"/>
<stop offset="0.45" stop-color="#2452ea"/>
<stop offset="0.7" stop-color="#5a82f3"/>
<stop offset="0.87" stop-color="#a9c0f9"/>
<stop offset="0.96" stop-color="#e8effe"/>
<stop offset="1" stop-color="#ffffff"/>
</radialGradient>
<clipPath id="cc1"><rect x="578.2" y="39.9" width="51.7" height="52"/></clipPath>
</defs>
<g clip-path="url(#cc1)"><rect x="577" y="39" width="54" height="54" fill="#000"/>
<g transform="translate(604.2,65.4) rotate(-45)">
<ellipse cx="0.0" cy="0.0" rx="46.0" ry="17.7" fill="url(#gz)" stroke="#fff" stroke-width="1.4"/>
<ellipse cx="0.0" cy="-35.4" rx="46.0" ry="17.7" fill="url(#gz)" stroke="#fff" stroke-width="1.4"/>
<ellipse cx="0.0" cy="35.4" rx="46.0" ry="17.7" fill="url(#gz)" stroke="#fff" stroke-width="1.4"/>
<ellipse cx="92.0" cy="0.0" rx="46.0" ry="17.7" fill="url(#gz)" stroke="#fff" stroke-width="1.4"/>
<ellipse cx="-92.0" cy="0.0" rx="46.0" ry="17.7" fill="url(#gz)" stroke="#fff" stroke-width="1.4"/>
<ellipse cx="92.0" cy="-35.4" rx="46.0" ry="17.7" fill="url(#gz)" stroke="#fff" stroke-width="1.4"/>
<ellipse cx="92.0" cy="35.4" rx="46.0" ry="17.7" fill="url(#gz)" stroke="#fff" stroke-width="1.4"/>
<ellipse cx="-92.0" cy="-35.4" rx="46.0" ry="17.7" fill="url(#gz)" stroke="#fff" stroke-width="1.4"/>
<ellipse cx="-92.0" cy="35.4" rx="46.0" ry="17.7" fill="url(#gz)" stroke="#fff" stroke-width="1.4"/>
</g>
<path d="M599.6,45.6 Q601.6,42.6 602.4,39.5 L611,39.5 Q604.5,41.6 599.6,45.6Z" fill="#000"/>
<path d="M608.8,85.6 Q606.8,88.6 606,92.2 L597.4,92.2 Q603.9,89.6 608.8,85.6Z" fill="#000"/>
<path d="M584.2,60.0 Q580.8,61.6 577.8,62.3 L577.8,71.4 Q580.0,64.6 584.2,60.0Z" fill="#000"/>
<path d="M624.2,71.2 Q627.6,69.6 630.6,68.9 L630.6,59.8 Q628.4,66.6 624.2,71.2Z" fill="#000"/>
</g>
<rect x="536.1" y="104.9" width="35.9" height="36" fill="#000"/>
<circle cx="554" cy="122.9" r="17.9" fill="url(#gz)"/>
<line x1="517.8" y1="121.9" x2="663.5" y2="121.9" stroke="#3f6df0" stroke-width="1.25" stroke-dasharray="2.7 2.1"/>
<polygon points="666.8,121.9 662.6,120.1 662.6,123.7" fill="#3f6df0"/>
<line x1="553.5" y1="160.3" x2="553.5" y2="51.5" stroke="#3f6df0" stroke-width="1.25" stroke-dasharray="2.7 2.1"/>
<polygon points="553.5,48 551.7,52.3 555.3,52.3" fill="#3f6df0"/>
<line x1="574" y1="95.4" x2="637.8" y2="31.8" stroke="#3f6df0" stroke-width="1.25" stroke-dasharray="2.7 2.1"/>
<polygon points="640.3,29.4 635.8,31.1 638.5,33.8" fill="#3f6df0"/>
<line x1="622" y1="83.2" x2="575.6" y2="36.8" stroke="#3f6df0" stroke-width="1.25" stroke-dasharray="2.7 2.1"/>
<polygon points="573.3,34.5 575.0,39.0 577.7,36.3" fill="#3f6df0"/>
<line x1="553.5" y1="65.4" x2="604.2" y2="65.4" stroke="#f0545c" stroke-width="1.2" stroke-dasharray="1.2 1.2"/>
<line x1="604.2" y1="65.4" x2="604.2" y2="121.9" stroke="#f0545c" stroke-width="1.2" stroke-dasharray="1.2 1.2"/>
<line x1="604.2" y1="65.4" x2="657" y2="65.4" stroke="#f5b920" stroke-width="1.2" stroke-dasharray="1.2 1.2"/>
<path d="M 618.6 65.4 A 14.4 14.4 0 0 0 615.5 56.6" fill="none" stroke="#f5b920" stroke-width="1.0"/>
<polygon points="614.6,55.4 617.2,57.2 615.0,58.4" fill="#f5b920"/>
<circle cx="626.5" cy="43.4" r="1.4" fill="#1aaa55"/>
<circle cx="591.4" cy="53.0" r="1.4" fill="#1aaa55"/>
<circle cx="553.5" cy="103.5" r="1.4" fill="#1aaa55"/>
<circle cx="571.5" cy="122" r="1.4" fill="#1aaa55"/>
<text x="537.6" y="51.2" font-size="11.2" fill="#3f6df0" stroke="#3f6df0" stroke-width="0.15">x<tspan font-size="7.2" dy="1.8">2</tspan></text>
<text x="569.4" y="32.6" font-size="11.2" fill="#3f6df0" stroke="#3f6df0" stroke-width="0.15">x<tspan font-size="7.2" dy="1.8">2</tspan><tspan font-size="13" dy="-2.2" dx="1.2">'</tspan></text>
<text x="633.6" y="27.6" font-size="11.2" fill="#3f6df0" stroke="#3f6df0" stroke-width="0.15">x<tspan font-size="7.2" dy="1.8">1</tspan><tspan font-size="13" dy="-2.6" dx="1.6">'</tspan></text>
<text x="591.4" y="29.2" font-size="8.7" font-weight="bold" fill="#1aaa55" textLength="30.8" lengthAdjust="spacingAndGlyphs">Scaling</text>
<text x="615" y="40.6" font-size="12" font-style="italic" fill="#1aaa55" stroke="#1aaa55" stroke-width="0.15">s<tspan font-size="7.2" dy="2" font-style="normal">1</tspan></text>
<text x="587" y="49.2" font-size="12" font-style="italic" fill="#1aaa55" stroke="#1aaa55" stroke-width="0.15">s<tspan font-size="7.2" dy="2" font-style="normal">2</tspan></text>
<text x="632.7" y="55.6" font-size="9.5" font-weight="bold" fill="#f5b920" textLength="38.3" lengthAdjust="spacingAndGlyphs">Rotation</text>
<text x="620.2" y="61.4" font-size="11" fill="#f5b920" stroke="#f5b920" stroke-width="0.2">α</text>
<text x="540.4" y="69.8" font-size="12" font-style="italic" fill="#f0545c">u<tspan font-size="7.6" dy="2.2" font-style="normal">2</tspan></text>
<text x="600.4" y="131.6" font-size="12" font-style="italic" fill="#f0545c">u<tspan font-size="7.6" dy="2.2" font-style="normal">1</tspan></text>
<text x="582.5" y="145.8" font-size="9.3" font-weight="bold" fill="#f0545c" textLength="49.8" lengthAdjust="spacingAndGlyphs">Translation</text>
<text x="652.8" y="115.2" font-size="11.4" font-weight="bold" fill="#3f6df0">x<tspan font-size="7.6" dy="2">1</tspan></text>
<text x="533" y="173.7" font-size="12.7" fill="#4677ee" textLength="132.5" lengthAdjust="spacingAndGlyphs">2-D Gaussian Heatmap</text>
<text x="547.2" y="105" font-size="5.2" fill="#1aaa55" text-anchor="middle">1</text>
<text x="571.6" y="132" font-size="5.2" fill="#1aaa55" text-anchor="middle">1</text>
<text x="595.5" y="198.2" text-anchor="middle" font-size="12" fill="#111">(c)</text>
</svg>
<div class="cl" style="top:456.04px;width:748.8px">Fig. 4.<span style="display:inline-block;width:25px"></span> The principle of the proposed object-adaptation label assign-</div><div class="cl" style="top:482.76px;width:748.8px">ment (OLA) strategy. (a) The original image. (b) The higher-resolution</div><div class="cl" style="top:509.48px;width:748.8px">heatmaps (down-sampling stride=4) generated by the Gaussian key-points</div><div class="cl" style="top:536.20px;width:748.8px">strategy of CenterNet [19], BBAVectors [22], DRN [8], etc. (c) The principle</div><div class="cl" style="top:562.92px;width:748.8px">of generating 2D Gaussian heatmaps. (d) (e) (f) represent the multiscale</div><div class="cl" style="top:589.64px;width:748.8px">(down-sampling stride=8, 16, 32) Gaussian positive candidates generated by</div><div class="cl" style="top:616.36px;width:727.0px">the proposed OLA strategy. The color bars represent Gaussian probability.</div>
</body></html>
